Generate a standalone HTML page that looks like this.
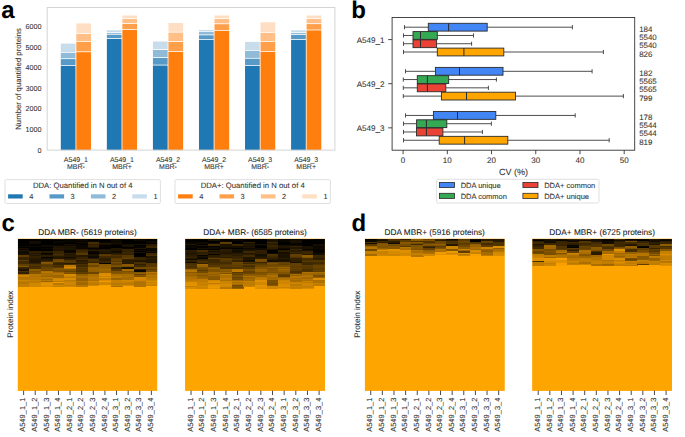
<!DOCTYPE html>
<html><head><meta charset="utf-8"><style>
html,body{margin:0;padding:0;background:#fff;width:685px;height:437px;overflow:hidden}
text{font-family:"Liberation Sans",sans-serif;text-rendering:geometricPrecision}
</style></head><body>
<svg width="685" height="437" viewBox="0 0 685 437" style="font-family:&apos;Liberation Sans&apos;,sans-serif;display:block"><text x="1.2" y="17.6" font-size="24" text-anchor="start" font-weight="bold" fill="#000" stroke="#000" stroke-width="0" >a</text>
<text x="351.2" y="18.0" font-size="24" text-anchor="start" font-weight="bold" fill="#000" stroke="#000" stroke-width="0" >b</text>
<text x="1.4" y="231.2" font-size="24" text-anchor="start" font-weight="bold" fill="#000" stroke="#000" stroke-width="0" >c</text>
<text x="351.6" y="231.3" font-size="24" text-anchor="start" font-weight="bold" fill="#000" stroke="#000" stroke-width="0" >d</text>
<rect x="60.80" y="65.80" width="14.70" height="84.30" fill="#1f77b4" />
<rect x="60.80" y="59.10" width="14.70" height="5.90" fill="#5799c7" />
<rect x="60.80" y="52.80" width="14.70" height="5.50" fill="#8fbbd9" />
<rect x="60.80" y="43.60" width="14.70" height="8.40" fill="#c7ddec" />
<rect x="76.30" y="52.20" width="14.70" height="97.90" fill="#ff7f0e" />
<rect x="76.30" y="41.80" width="14.70" height="9.60" fill="#ff9f4a" />
<rect x="76.30" y="33.90" width="14.70" height="7.10" fill="#ffbf86" />
<rect x="76.30" y="23.40" width="14.70" height="9.70" fill="#ffdfc3" />
<rect x="106.86" y="38.90" width="14.70" height="111.20" fill="#1f77b4" />
<rect x="106.86" y="34.70" width="14.70" height="3.40" fill="#5799c7" />
<rect x="106.86" y="32.90" width="14.70" height="1.00" fill="#8fbbd9" />
<rect x="106.86" y="30.30" width="14.70" height="1.80" fill="#c7ddec" />
<rect x="122.36" y="29.90" width="14.70" height="120.20" fill="#ff7f0e" />
<rect x="122.36" y="24.00" width="14.70" height="5.10" fill="#ff9f4a" />
<rect x="122.36" y="18.90" width="14.70" height="4.30" fill="#ffbf86" />
<rect x="122.36" y="15.50" width="14.70" height="2.60" fill="#ffdfc3" />
<rect x="152.92" y="65.50" width="14.70" height="84.60" fill="#1f77b4" />
<rect x="152.92" y="58.00" width="14.70" height="6.70" fill="#5799c7" />
<rect x="152.92" y="50.00" width="14.70" height="7.20" fill="#8fbbd9" />
<rect x="152.92" y="41.50" width="14.70" height="7.70" fill="#c7ddec" />
<rect x="168.42" y="51.80" width="14.70" height="98.30" fill="#ff7f0e" />
<rect x="168.42" y="41.90" width="14.70" height="9.10" fill="#ff9f4a" />
<rect x="168.42" y="32.60" width="14.70" height="8.50" fill="#ffbf86" />
<rect x="168.42" y="23.00" width="14.70" height="8.80" fill="#ffdfc3" />
<rect x="198.98" y="39.80" width="14.70" height="110.30" fill="#1f77b4" />
<rect x="198.98" y="35.30" width="14.70" height="3.70" fill="#5799c7" />
<rect x="198.98" y="31.80" width="14.70" height="2.70" fill="#8fbbd9" />
<rect x="198.98" y="29.90" width="14.70" height="1.10" fill="#c7ddec" />
<rect x="214.48" y="30.80" width="14.70" height="119.30" fill="#ff7f0e" />
<rect x="214.48" y="24.20" width="14.70" height="5.80" fill="#ff9f4a" />
<rect x="214.48" y="18.90" width="14.70" height="4.50" fill="#ffbf86" />
<rect x="214.48" y="15.50" width="14.70" height="2.60" fill="#ffdfc3" />
<rect x="245.04" y="65.80" width="14.70" height="84.30" fill="#1f77b4" />
<rect x="245.04" y="58.70" width="14.70" height="6.30" fill="#5799c7" />
<rect x="245.04" y="50.80" width="14.70" height="7.10" fill="#8fbbd9" />
<rect x="245.04" y="41.90" width="14.70" height="8.10" fill="#c7ddec" />
<rect x="260.54" y="51.80" width="14.70" height="98.30" fill="#ff7f0e" />
<rect x="260.54" y="41.80" width="14.70" height="9.20" fill="#ff9f4a" />
<rect x="260.54" y="32.80" width="14.70" height="8.20" fill="#ffbf86" />
<rect x="260.54" y="22.30" width="14.70" height="9.70" fill="#ffdfc3" />
<rect x="291.10" y="39.90" width="14.70" height="110.20" fill="#1f77b4" />
<rect x="291.10" y="34.90" width="14.70" height="4.20" fill="#5799c7" />
<rect x="291.10" y="32.90" width="14.70" height="1.20" fill="#8fbbd9" />
<rect x="291.10" y="30.30" width="14.70" height="1.80" fill="#c7ddec" />
<rect x="306.60" y="30.40" width="14.70" height="119.70" fill="#ff7f0e" />
<rect x="306.60" y="24.10" width="14.70" height="5.50" fill="#ff9f4a" />
<rect x="306.60" y="18.90" width="14.70" height="4.40" fill="#ffbf86" />
<rect x="306.60" y="15.50" width="14.70" height="2.60" fill="#ffdfc3" />
<rect x="47.2" y="7.5" width="287.7" height="142.6" fill="none" stroke="#d4d4d4" stroke-width="1"/>
<text x="41.4" y="152.65" font-size="7.2" text-anchor="end" font-weight="normal" fill="#333" stroke="#333" stroke-width="0.08" >0</text>
<text x="41.4" y="132.02" font-size="7.2" text-anchor="end" font-weight="normal" fill="#333" stroke="#333" stroke-width="0.08" >1000</text>
<text x="41.4" y="111.39" font-size="7.2" text-anchor="end" font-weight="normal" fill="#333" stroke="#333" stroke-width="0.08" >2000</text>
<text x="41.4" y="90.75999999999999" font-size="7.2" text-anchor="end" font-weight="normal" fill="#333" stroke="#333" stroke-width="0.08" >3000</text>
<text x="41.4" y="70.13" font-size="7.2" text-anchor="end" font-weight="normal" fill="#333" stroke="#333" stroke-width="0.08" >4000</text>
<text x="41.4" y="49.5" font-size="7.2" text-anchor="end" font-weight="normal" fill="#333" stroke="#333" stroke-width="0.08" >5000</text>
<text x="41.4" y="28.869999999999994" font-size="7.2" text-anchor="end" font-weight="normal" fill="#333" stroke="#333" stroke-width="0.08" >6000</text>
<text x="0" y="0" font-size="7.75" text-anchor="middle" font-weight="normal" fill="#333" stroke="#333" stroke-width="0.08" transform="translate(21.3,78.9) rotate(-90)">Number of quantified proteins</text>
<text x="75.9" y="161.6" font-size="7.0" text-anchor="middle" font-weight="normal" fill="#333" stroke="#333" stroke-width="0.08" >A549_1</text>
<text x="75.9" y="168.9" font-size="7.0" text-anchor="middle" font-weight="normal" fill="#333" stroke="#333" stroke-width="0.08" >MBR-</text>
<text x="121.96000000000001" y="161.6" font-size="7.0" text-anchor="middle" font-weight="normal" fill="#333" stroke="#333" stroke-width="0.08" >A549_1</text>
<text x="121.96000000000001" y="168.9" font-size="7.0" text-anchor="middle" font-weight="normal" fill="#333" stroke="#333" stroke-width="0.08" >MBR+</text>
<text x="168.02" y="161.6" font-size="7.0" text-anchor="middle" font-weight="normal" fill="#333" stroke="#333" stroke-width="0.08" >A549_2</text>
<text x="168.02" y="168.9" font-size="7.0" text-anchor="middle" font-weight="normal" fill="#333" stroke="#333" stroke-width="0.08" >MBR-</text>
<text x="214.08" y="161.6" font-size="7.0" text-anchor="middle" font-weight="normal" fill="#333" stroke="#333" stroke-width="0.08" >A549_2</text>
<text x="214.08" y="168.9" font-size="7.0" text-anchor="middle" font-weight="normal" fill="#333" stroke="#333" stroke-width="0.08" >MBR+</text>
<text x="260.14" y="161.6" font-size="7.0" text-anchor="middle" font-weight="normal" fill="#333" stroke="#333" stroke-width="0.08" >A549_3</text>
<text x="260.14" y="168.9" font-size="7.0" text-anchor="middle" font-weight="normal" fill="#333" stroke="#333" stroke-width="0.08" >MBR-</text>
<text x="306.20000000000005" y="161.6" font-size="7.0" text-anchor="middle" font-weight="normal" fill="#333" stroke="#333" stroke-width="0.08" >A549_3</text>
<text x="306.20000000000005" y="168.9" font-size="7.0" text-anchor="middle" font-weight="normal" fill="#333" stroke="#333" stroke-width="0.08" >MBR+</text>
<rect x="5.0" y="179.6" width="155.4" height="23.900000000000006" rx="1.5" fill="#fff" stroke="#d8d8d8" stroke-width="0.8"/>
<text x="82.7" y="187.9" font-size="7.72" text-anchor="middle" font-weight="normal" fill="#333" stroke="#333" stroke-width="0.08" >DDA: Quantified in N out of 4</text>
<rect x="8.10" y="194.30" width="14.60" height="4.20" fill="#1f77b4" />
<text x="29.200000000000003" y="199.3" font-size="7.4" text-anchor="start" font-weight="normal" fill="#333" stroke="#333" stroke-width="0.08" >4</text>
<rect x="49.50" y="194.30" width="14.60" height="4.20" fill="#5799c7" />
<text x="70.6" y="199.3" font-size="7.4" text-anchor="start" font-weight="normal" fill="#333" stroke="#333" stroke-width="0.08" >3</text>
<rect x="90.90" y="194.30" width="14.60" height="4.20" fill="#8fbbd9" />
<text x="112.0" y="199.3" font-size="7.4" text-anchor="start" font-weight="normal" fill="#333" stroke="#333" stroke-width="0.08" >2</text>
<rect x="132.30" y="194.30" width="14.60" height="4.20" fill="#c7ddec" />
<text x="153.39999999999998" y="199.3" font-size="7.4" text-anchor="start" font-weight="normal" fill="#333" stroke="#333" stroke-width="0.08" >1</text>
<rect x="175.0" y="179.6" width="155.39999999999998" height="23.900000000000006" rx="1.5" fill="#fff" stroke="#d8d8d8" stroke-width="0.8"/>
<text x="252.7" y="187.9" font-size="7.72" text-anchor="middle" font-weight="normal" fill="#333" stroke="#333" stroke-width="0.08" >DDA+: Quantified in N out of 4</text>
<rect x="178.10" y="194.30" width="14.60" height="4.20" fill="#ff7f0e" />
<text x="199.2" y="199.3" font-size="7.4" text-anchor="start" font-weight="normal" fill="#333" stroke="#333" stroke-width="0.08" >4</text>
<rect x="219.50" y="194.30" width="14.60" height="4.20" fill="#ff9f4a" />
<text x="240.6" y="199.3" font-size="7.4" text-anchor="start" font-weight="normal" fill="#333" stroke="#333" stroke-width="0.08" >3</text>
<rect x="260.90" y="194.30" width="14.60" height="4.20" fill="#ffbf86" />
<text x="282.0" y="199.3" font-size="7.4" text-anchor="start" font-weight="normal" fill="#333" stroke="#333" stroke-width="0.08" >2</text>
<rect x="302.30" y="194.30" width="14.60" height="4.20" fill="#ffdfc3" />
<text x="323.4" y="199.3" font-size="7.4" text-anchor="start" font-weight="normal" fill="#333" stroke="#333" stroke-width="0.08" >1</text>
<line x1="404.50" y1="27.20" x2="428.30" y2="27.20" stroke="#3a3a3a" stroke-width="0.9" />
<line x1="487.20" y1="27.20" x2="572.40" y2="27.20" stroke="#3a3a3a" stroke-width="0.9" />
<line x1="404.50" y1="25.09" x2="404.50" y2="29.30" stroke="#3a3a3a" stroke-width="0.9" />
<line x1="572.40" y1="25.09" x2="572.40" y2="29.30" stroke="#3a3a3a" stroke-width="0.9" />
<rect x="428.30" y="23.30" width="58.90" height="7.80" fill="#4285f4" stroke="#2b2b2b" stroke-width="0.9"/>
<line x1="448.60" y1="23.30" x2="448.60" y2="31.09" stroke="#2b2b2b" stroke-width="1.0" />
<line x1="403.50" y1="35.47" x2="413.00" y2="35.47" stroke="#3a3a3a" stroke-width="0.9" />
<line x1="437.30" y1="35.47" x2="473.50" y2="35.47" stroke="#3a3a3a" stroke-width="0.9" />
<line x1="403.50" y1="33.37" x2="403.50" y2="37.57" stroke="#3a3a3a" stroke-width="0.9" />
<line x1="473.50" y1="33.37" x2="473.50" y2="37.57" stroke="#3a3a3a" stroke-width="0.9" />
<rect x="413.00" y="31.57" width="24.30" height="7.80" fill="#34a853" stroke="#2b2b2b" stroke-width="0.9"/>
<line x1="420.50" y1="31.57" x2="420.50" y2="39.37" stroke="#2b2b2b" stroke-width="1.0" />
<line x1="403.50" y1="43.73" x2="413.00" y2="43.73" stroke="#3a3a3a" stroke-width="0.9" />
<line x1="436.60" y1="43.73" x2="471.60" y2="43.73" stroke="#3a3a3a" stroke-width="0.9" />
<line x1="403.50" y1="41.63" x2="403.50" y2="45.84" stroke="#3a3a3a" stroke-width="0.9" />
<line x1="471.60" y1="41.63" x2="471.60" y2="45.84" stroke="#3a3a3a" stroke-width="0.9" />
<rect x="413.00" y="39.84" width="23.60" height="7.80" fill="#ea4335" stroke="#2b2b2b" stroke-width="0.9"/>
<line x1="420.50" y1="39.84" x2="420.50" y2="47.63" stroke="#2b2b2b" stroke-width="1.0" />
<line x1="403.50" y1="52.01" x2="437.30" y2="52.01" stroke="#3a3a3a" stroke-width="0.9" />
<line x1="503.80" y1="52.01" x2="603.40" y2="52.01" stroke="#3a3a3a" stroke-width="0.9" />
<line x1="403.50" y1="49.91" x2="403.50" y2="54.11" stroke="#3a3a3a" stroke-width="0.9" />
<line x1="603.40" y1="49.91" x2="603.40" y2="54.11" stroke="#3a3a3a" stroke-width="0.9" />
<rect x="437.30" y="48.11" width="66.50" height="7.80" fill="#ffa500" stroke="#2b2b2b" stroke-width="0.9"/>
<line x1="463.90" y1="48.11" x2="463.90" y2="55.91" stroke="#2b2b2b" stroke-width="1.0" />
<line x1="405.50" y1="71.30" x2="435.40" y2="71.30" stroke="#3a3a3a" stroke-width="0.9" />
<line x1="503.00" y1="71.30" x2="592.10" y2="71.30" stroke="#3a3a3a" stroke-width="0.9" />
<line x1="405.50" y1="69.20" x2="405.50" y2="73.39" stroke="#3a3a3a" stroke-width="0.9" />
<line x1="592.10" y1="69.20" x2="592.10" y2="73.39" stroke="#3a3a3a" stroke-width="0.9" />
<rect x="435.40" y="67.39" width="67.60" height="7.80" fill="#4285f4" stroke="#2b2b2b" stroke-width="0.9"/>
<line x1="459.50" y1="67.39" x2="459.50" y2="75.20" stroke="#2b2b2b" stroke-width="1.0" />
<line x1="403.30" y1="79.56" x2="417.30" y2="79.56" stroke="#3a3a3a" stroke-width="0.9" />
<line x1="448.70" y1="79.56" x2="496.40" y2="79.56" stroke="#3a3a3a" stroke-width="0.9" />
<line x1="403.30" y1="77.47" x2="403.30" y2="81.66" stroke="#3a3a3a" stroke-width="0.9" />
<line x1="496.40" y1="77.47" x2="496.40" y2="81.66" stroke="#3a3a3a" stroke-width="0.9" />
<rect x="417.30" y="75.66" width="31.40" height="7.80" fill="#34a853" stroke="#2b2b2b" stroke-width="0.9"/>
<line x1="427.40" y1="75.66" x2="427.40" y2="83.47" stroke="#2b2b2b" stroke-width="1.0" />
<line x1="403.30" y1="87.84" x2="417.30" y2="87.84" stroke="#3a3a3a" stroke-width="0.9" />
<line x1="445.80" y1="87.84" x2="488.40" y2="87.84" stroke="#3a3a3a" stroke-width="0.9" />
<line x1="403.30" y1="85.74" x2="403.30" y2="89.94" stroke="#3a3a3a" stroke-width="0.9" />
<line x1="488.40" y1="85.74" x2="488.40" y2="89.94" stroke="#3a3a3a" stroke-width="0.9" />
<rect x="417.30" y="83.94" width="28.50" height="7.80" fill="#ea4335" stroke="#2b2b2b" stroke-width="0.9"/>
<line x1="427.40" y1="83.94" x2="427.40" y2="91.74" stroke="#2b2b2b" stroke-width="1.0" />
<line x1="403.30" y1="96.11" x2="441.40" y2="96.11" stroke="#3a3a3a" stroke-width="0.9" />
<line x1="515.50" y1="96.11" x2="623.40" y2="96.11" stroke="#3a3a3a" stroke-width="0.9" />
<line x1="403.30" y1="94.01" x2="403.30" y2="98.20" stroke="#3a3a3a" stroke-width="0.9" />
<line x1="623.40" y1="94.01" x2="623.40" y2="98.20" stroke="#3a3a3a" stroke-width="0.9" />
<rect x="441.40" y="92.20" width="74.10" height="7.80" fill="#ffa500" stroke="#2b2b2b" stroke-width="0.9"/>
<line x1="466.50" y1="92.20" x2="466.50" y2="100.01" stroke="#2b2b2b" stroke-width="1.0" />
<line x1="405.50" y1="115.44" x2="433.40" y2="115.44" stroke="#3a3a3a" stroke-width="0.9" />
<line x1="495.80" y1="115.44" x2="575.20" y2="115.44" stroke="#3a3a3a" stroke-width="0.9" />
<line x1="405.50" y1="113.34" x2="405.50" y2="117.54" stroke="#3a3a3a" stroke-width="0.9" />
<line x1="575.20" y1="113.34" x2="575.20" y2="117.54" stroke="#3a3a3a" stroke-width="0.9" />
<rect x="433.40" y="111.54" width="62.40" height="7.80" fill="#4285f4" stroke="#2b2b2b" stroke-width="0.9"/>
<line x1="457.50" y1="111.54" x2="457.50" y2="119.34" stroke="#2b2b2b" stroke-width="1.0" />
<line x1="403.50" y1="123.71" x2="416.60" y2="123.71" stroke="#3a3a3a" stroke-width="0.9" />
<line x1="446.80" y1="123.71" x2="491.40" y2="123.71" stroke="#3a3a3a" stroke-width="0.9" />
<line x1="403.50" y1="121.61" x2="403.50" y2="125.81" stroke="#3a3a3a" stroke-width="0.9" />
<line x1="491.40" y1="121.61" x2="491.40" y2="125.81" stroke="#3a3a3a" stroke-width="0.9" />
<rect x="416.60" y="119.81" width="30.20" height="7.80" fill="#34a853" stroke="#2b2b2b" stroke-width="0.9"/>
<line x1="426.40" y1="119.81" x2="426.40" y2="127.61" stroke="#2b2b2b" stroke-width="1.0" />
<line x1="403.50" y1="131.98" x2="416.50" y2="131.98" stroke="#3a3a3a" stroke-width="0.9" />
<line x1="442.90" y1="131.98" x2="482.40" y2="131.98" stroke="#3a3a3a" stroke-width="0.9" />
<line x1="403.50" y1="129.88" x2="403.50" y2="134.08" stroke="#3a3a3a" stroke-width="0.9" />
<line x1="482.40" y1="129.88" x2="482.40" y2="134.08" stroke="#3a3a3a" stroke-width="0.9" />
<rect x="416.50" y="128.08" width="26.40" height="7.80" fill="#ea4335" stroke="#2b2b2b" stroke-width="0.9"/>
<line x1="426.40" y1="128.08" x2="426.40" y2="135.88" stroke="#2b2b2b" stroke-width="1.0" />
<line x1="403.50" y1="140.25" x2="439.20" y2="140.25" stroke="#3a3a3a" stroke-width="0.9" />
<line x1="507.80" y1="140.25" x2="609.20" y2="140.25" stroke="#3a3a3a" stroke-width="0.9" />
<line x1="403.50" y1="138.16" x2="403.50" y2="142.35" stroke="#3a3a3a" stroke-width="0.9" />
<line x1="609.20" y1="138.16" x2="609.20" y2="142.35" stroke="#3a3a3a" stroke-width="0.9" />
<rect x="439.20" y="136.35" width="68.60" height="7.80" fill="#ffa500" stroke="#2b2b2b" stroke-width="0.9"/>
<line x1="464.60" y1="136.35" x2="464.60" y2="144.16" stroke="#2b2b2b" stroke-width="1.0" />
<rect x="392.1" y="17.5" width="242.60000000000002" height="132.7" fill="none" stroke="#333" stroke-width="0.9"/>
<line x1="388.20" y1="39.60" x2="392.10" y2="39.60" stroke="#333" stroke-width="0.9" />
<text x="384.6" y="42.5" font-size="8.1" text-anchor="end" font-weight="normal" fill="#333" stroke="#333" stroke-width="0.08" >A549_1</text>
<line x1="388.20" y1="83.70" x2="392.10" y2="83.70" stroke="#333" stroke-width="0.9" />
<text x="384.6" y="86.60000000000001" font-size="8.1" text-anchor="end" font-weight="normal" fill="#333" stroke="#333" stroke-width="0.08" >A549_2</text>
<line x1="388.20" y1="127.85" x2="392.10" y2="127.85" stroke="#333" stroke-width="0.9" />
<text x="384.6" y="130.75" font-size="8.1" text-anchor="end" font-weight="normal" fill="#333" stroke="#333" stroke-width="0.08" >A549_3</text>
<text x="639.2" y="31.6" font-size="7.9" text-anchor="start" font-weight="normal" fill="#333" stroke="#333" stroke-width="0.08" >184</text>
<text x="639.2" y="39.900000000000006" font-size="7.9" text-anchor="start" font-weight="normal" fill="#333" stroke="#333" stroke-width="0.08" >5540</text>
<text x="639.2" y="48.2" font-size="7.9" text-anchor="start" font-weight="normal" fill="#333" stroke="#333" stroke-width="0.08" >5540</text>
<text x="639.2" y="56.50000000000001" font-size="7.9" text-anchor="start" font-weight="normal" fill="#333" stroke="#333" stroke-width="0.08" >826</text>
<text x="639.2" y="75.69999999999999" font-size="7.9" text-anchor="start" font-weight="normal" fill="#333" stroke="#333" stroke-width="0.08" >182</text>
<text x="639.2" y="83.99999999999999" font-size="7.9" text-anchor="start" font-weight="normal" fill="#333" stroke="#333" stroke-width="0.08" >5565</text>
<text x="639.2" y="92.3" font-size="7.9" text-anchor="start" font-weight="normal" fill="#333" stroke="#333" stroke-width="0.08" >5565</text>
<text x="639.2" y="100.6" font-size="7.9" text-anchor="start" font-weight="normal" fill="#333" stroke="#333" stroke-width="0.08" >799</text>
<text x="639.2" y="119.84999999999998" font-size="7.9" text-anchor="start" font-weight="normal" fill="#333" stroke="#333" stroke-width="0.08" >178</text>
<text x="639.2" y="128.14999999999998" font-size="7.9" text-anchor="start" font-weight="normal" fill="#333" stroke="#333" stroke-width="0.08" >5544</text>
<text x="639.2" y="136.45" font-size="7.9" text-anchor="start" font-weight="normal" fill="#333" stroke="#333" stroke-width="0.08" >5544</text>
<text x="639.2" y="144.74999999999997" font-size="7.9" text-anchor="start" font-weight="normal" fill="#333" stroke="#333" stroke-width="0.08" >819</text>
<line x1="403.10" y1="150.20" x2="403.10" y2="154.20" stroke="#333" stroke-width="0.9" />
<text x="403.1" y="163.3" font-size="8.0" text-anchor="middle" font-weight="normal" fill="#333" stroke="#333" stroke-width="0.08" >0</text>
<line x1="447.32" y1="150.20" x2="447.32" y2="154.20" stroke="#333" stroke-width="0.9" />
<text x="447.32000000000005" y="163.3" font-size="8.0" text-anchor="middle" font-weight="normal" fill="#333" stroke="#333" stroke-width="0.08" >10</text>
<line x1="491.54" y1="150.20" x2="491.54" y2="154.20" stroke="#333" stroke-width="0.9" />
<text x="491.54" y="163.3" font-size="8.0" text-anchor="middle" font-weight="normal" fill="#333" stroke="#333" stroke-width="0.08" >20</text>
<line x1="535.76" y1="150.20" x2="535.76" y2="154.20" stroke="#333" stroke-width="0.9" />
<text x="535.76" y="163.3" font-size="8.0" text-anchor="middle" font-weight="normal" fill="#333" stroke="#333" stroke-width="0.08" >30</text>
<line x1="579.98" y1="150.20" x2="579.98" y2="154.20" stroke="#333" stroke-width="0.9" />
<text x="579.98" y="163.3" font-size="8.0" text-anchor="middle" font-weight="normal" fill="#333" stroke="#333" stroke-width="0.08" >40</text>
<line x1="624.20" y1="150.20" x2="624.20" y2="154.20" stroke="#333" stroke-width="0.9" />
<text x="624.2" y="163.3" font-size="8.0" text-anchor="middle" font-weight="normal" fill="#333" stroke="#333" stroke-width="0.08" >50</text>
<text x="513.5" y="174.6" font-size="9.0" text-anchor="middle" font-weight="normal" fill="#333" stroke="#333" stroke-width="0.08" >CV (%)</text>
<rect x="436.6" y="179.3" width="162.39999999999998" height="23.69999999999999" rx="1.5" fill="#fff" stroke="#d8d8d8" stroke-width="0.8"/>
<rect x="439.4" y="182.4" width="15.1" height="5.2" fill="#4285f4" stroke="#2b2b2b" stroke-width="0.8"/>
<text x="460.7" y="187.9" font-size="7.5" text-anchor="start" font-weight="normal" fill="#333" stroke="#333" stroke-width="0.08" >DDA unique</text>
<rect x="439.4" y="193.3" width="15.1" height="5.2" fill="#34a853" stroke="#2b2b2b" stroke-width="0.8"/>
<text x="460.7" y="198.8" font-size="7.5" text-anchor="start" font-weight="normal" fill="#333" stroke="#333" stroke-width="0.08" >DDA common</text>
<rect x="522.9" y="182.4" width="15.1" height="5.2" fill="#ea4335" stroke="#2b2b2b" stroke-width="0.8"/>
<text x="544.1999999999999" y="187.9" font-size="7.5" text-anchor="start" font-weight="normal" fill="#333" stroke="#333" stroke-width="0.08" >DDA+ common</text>
<rect x="522.9" y="193.3" width="15.1" height="5.2" fill="#ffa500" stroke="#2b2b2b" stroke-width="0.8"/>
<text x="544.1999999999999" y="198.8" font-size="7.5" text-anchor="start" font-weight="normal" fill="#333" stroke="#333" stroke-width="0.08" >DDA+ unique</text>
<defs><filter id="vb" x="0" y="0" width="1" height="1" color-interpolation-filters="sRGB"><feGaussianBlur stdDeviation="0.3 0.45"/></filter></defs>
<rect x="17.80" y="238.70" width="139.40" height="152.00" fill="#ffa500" />
<clipPath id="hc0"><rect x="17.8" y="238.7" width="139.40" height="152.00"/></clipPath>
<g clip-path="url(#hc0)"><g filter="url(#vb)" shape-rendering="crispEdges">
<rect x="17.80" y="238.70" width="139.40" height="152.00" fill="#ffa500" />
<rect x="17.80" y="238.70" width="12.12" height="1.85" fill="#000000" />
<rect x="17.80" y="239.95" width="12.12" height="1.87" fill="#000000" />
<rect x="17.80" y="241.22" width="12.12" height="1.91" fill="#000000" />
<rect x="17.80" y="242.53" width="12.12" height="1.91" fill="#010100" />
<rect x="17.80" y="243.84" width="12.12" height="2.03" fill="#070400" />
<rect x="17.80" y="245.27" width="12.12" height="1.70" fill="#000000" />
<rect x="17.80" y="246.37" width="12.12" height="1.49" fill="#0c0800" />
<rect x="17.80" y="247.26" width="12.12" height="1.44" fill="#000000" />
<rect x="17.80" y="248.10" width="12.12" height="1.32" fill="#170f00" />
<rect x="17.80" y="248.82" width="12.12" height="2.02" fill="#0c0800" />
<rect x="17.80" y="250.24" width="12.12" height="1.56" fill="#201500" />
<rect x="17.80" y="251.19" width="12.12" height="1.46" fill="#120b00" />
<rect x="17.80" y="252.05" width="12.12" height="1.59" fill="#100b00" />
<rect x="17.80" y="253.04" width="12.12" height="1.86" fill="#130d00" />
<rect x="17.80" y="254.31" width="12.12" height="1.52" fill="#191000" />
<rect x="17.80" y="255.23" width="12.12" height="2.52" fill="#5b3b00" />
<rect x="17.80" y="257.15" width="12.12" height="1.90" fill="#3a2500" />
<rect x="17.80" y="258.45" width="12.12" height="1.68" fill="#352200" />
<rect x="17.80" y="259.53" width="12.12" height="2.40" fill="#5a3a00" />
<rect x="17.80" y="261.33" width="12.12" height="2.11" fill="#402a00" />
<rect x="17.80" y="262.84" width="12.12" height="1.33" fill="#422b00" />
<rect x="17.80" y="263.56" width="12.12" height="1.47" fill="#805300" />
<rect x="17.80" y="264.43" width="12.12" height="2.17" fill="#613f00" />
<rect x="17.80" y="266.00" width="12.12" height="1.37" fill="#845500" />
<rect x="17.80" y="266.77" width="12.12" height="2.36" fill="#362300" />
<rect x="17.80" y="268.53" width="12.12" height="1.41" fill="#352200" />
<rect x="17.80" y="269.33" width="12.12" height="2.31" fill="#1e1300" />
<rect x="17.80" y="271.04" width="12.12" height="1.80" fill="#482e00" />
<rect x="17.80" y="272.24" width="12.12" height="1.47" fill="#322000" />
<rect x="17.80" y="273.11" width="12.12" height="1.95" fill="#312000" />
<rect x="17.80" y="274.46" width="12.12" height="1.49" fill="#9f6700" />
<rect x="17.80" y="275.35" width="12.12" height="2.16" fill="#cc8400" />
<rect x="17.80" y="276.91" width="12.12" height="1.52" fill="#b07200" />
<rect x="17.80" y="277.82" width="12.12" height="1.46" fill="#b57500" />
<rect x="17.80" y="278.68" width="12.12" height="1.51" fill="#b77600" />
<rect x="17.80" y="279.59" width="12.12" height="1.85" fill="#cd8500" />
<rect x="17.80" y="280.84" width="12.12" height="1.59" fill="#be7b00" />
<rect x="17.80" y="281.83" width="12.12" height="2.04" fill="#b87700" />
<rect x="17.80" y="283.27" width="12.12" height="1.52" fill="#b77600" />
<rect x="17.80" y="284.19" width="12.12" height="1.67" fill="#c37e00" />
<rect x="17.80" y="285.26" width="12.12" height="2.02" fill="#c27e00" />
<rect x="29.42" y="238.70" width="12.12" height="2.28" fill="#000000" />
<rect x="29.42" y="240.38" width="12.12" height="1.61" fill="#000000" />
<rect x="29.42" y="241.40" width="12.12" height="2.04" fill="#150d00" />
<rect x="29.42" y="242.84" width="12.12" height="1.50" fill="#0e0900" />
<rect x="29.42" y="243.74" width="12.12" height="1.66" fill="#050300" />
<rect x="29.42" y="244.80" width="12.12" height="2.17" fill="#000000" />
<rect x="29.42" y="246.37" width="12.12" height="1.47" fill="#0f0900" />
<rect x="29.42" y="247.24" width="12.12" height="1.49" fill="#000000" />
<rect x="29.42" y="248.13" width="12.12" height="2.00" fill="#000000" />
<rect x="29.42" y="249.53" width="12.12" height="1.77" fill="#000000" />
<rect x="29.42" y="250.71" width="12.12" height="1.28" fill="#0f0900" />
<rect x="29.42" y="251.38" width="12.12" height="1.97" fill="#2f1f00" />
<rect x="29.42" y="252.76" width="12.12" height="1.55" fill="#241700" />
<rect x="29.42" y="253.71" width="12.12" height="2.31" fill="#2e1e00" />
<rect x="29.42" y="255.42" width="12.12" height="1.59" fill="#211600" />
<rect x="29.42" y="256.41" width="12.12" height="2.62" fill="#322000" />
<rect x="29.42" y="258.44" width="12.12" height="2.35" fill="#271900" />
<rect x="29.42" y="260.19" width="12.12" height="2.28" fill="#1f1400" />
<rect x="29.42" y="261.87" width="12.12" height="1.50" fill="#221600" />
<rect x="29.42" y="262.77" width="12.12" height="1.39" fill="#332100" />
<rect x="29.42" y="263.56" width="12.12" height="2.10" fill="#4b3100" />
<rect x="29.42" y="265.07" width="12.12" height="1.66" fill="#553700" />
<rect x="29.42" y="266.13" width="12.12" height="1.69" fill="#3e2800" />
<rect x="29.42" y="267.22" width="12.12" height="1.58" fill="#4d3200" />
<rect x="29.42" y="268.19" width="12.12" height="1.74" fill="#492f00" />
<rect x="29.42" y="269.33" width="12.12" height="1.96" fill="#8e5c00" />
<rect x="29.42" y="270.69" width="12.12" height="1.68" fill="#754c00" />
<rect x="29.42" y="271.77" width="12.12" height="2.32" fill="#845500" />
<rect x="29.42" y="273.49" width="12.12" height="1.57" fill="#855600" />
<rect x="29.42" y="274.46" width="12.12" height="1.85" fill="#b77600" />
<rect x="29.42" y="275.71" width="12.12" height="1.77" fill="#b27300" />
<rect x="29.42" y="276.88" width="12.12" height="1.97" fill="#b87700" />
<rect x="29.42" y="278.25" width="12.12" height="1.94" fill="#b87700" />
<rect x="29.42" y="279.59" width="12.12" height="2.38" fill="#c47f00" />
<rect x="29.42" y="281.37" width="12.12" height="1.98" fill="#be7b00" />
<rect x="29.42" y="282.75" width="12.12" height="1.54" fill="#d18700" />
<rect x="29.42" y="283.70" width="12.12" height="2.31" fill="#cf8600" />
<rect x="29.42" y="285.41" width="12.12" height="1.88" fill="#d18700" />
<rect x="41.03" y="238.70" width="12.12" height="2.04" fill="#050300" />
<rect x="41.03" y="240.14" width="12.12" height="1.88" fill="#040200" />
<rect x="41.03" y="241.42" width="12.12" height="2.40" fill="#000000" />
<rect x="41.03" y="243.22" width="12.12" height="1.48" fill="#000000" />
<rect x="41.03" y="244.09" width="12.12" height="1.48" fill="#000000" />
<rect x="41.03" y="244.97" width="12.12" height="2.14" fill="#0f0a00" />
<rect x="41.03" y="246.51" width="12.12" height="2.32" fill="#000000" />
<rect x="41.03" y="248.23" width="12.12" height="1.75" fill="#0b0700" />
<rect x="41.03" y="249.38" width="12.12" height="2.61" fill="#000000" />
<rect x="41.03" y="251.38" width="12.12" height="1.82" fill="#261900" />
<rect x="41.03" y="252.60" width="12.12" height="1.97" fill="#070400" />
<rect x="41.03" y="253.97" width="12.12" height="2.02" fill="#130c00" />
<rect x="41.03" y="255.40" width="12.12" height="2.01" fill="#2b1c00" />
<rect x="41.03" y="256.81" width="12.12" height="1.59" fill="#060400" />
<rect x="41.03" y="257.79" width="12.12" height="2.28" fill="#160e00" />
<rect x="41.03" y="259.47" width="12.12" height="2.13" fill="#251800" />
<rect x="41.03" y="261.00" width="12.12" height="1.24" fill="#432b00" />
<rect x="41.03" y="261.64" width="12.12" height="1.84" fill="#865700" />
<rect x="41.03" y="262.88" width="12.12" height="1.28" fill="#7f5200" />
<rect x="41.03" y="263.56" width="12.12" height="1.43" fill="#5c3b00" />
<rect x="41.03" y="264.39" width="12.12" height="1.63" fill="#5f3d00" />
<rect x="41.03" y="265.42" width="12.12" height="2.10" fill="#563800" />
<rect x="41.03" y="266.92" width="12.12" height="2.32" fill="#684300" />
<rect x="41.03" y="268.64" width="12.12" height="1.66" fill="#724a00" />
<rect x="41.03" y="269.70" width="12.12" height="1.52" fill="#684400" />
<rect x="41.03" y="270.62" width="12.12" height="1.60" fill="#ae7000" />
<rect x="41.03" y="271.62" width="12.12" height="2.06" fill="#b97700" />
<rect x="41.03" y="273.08" width="12.12" height="1.98" fill="#a96d00" />
<rect x="41.03" y="274.46" width="12.12" height="2.07" fill="#a86d00" />
<rect x="41.03" y="275.93" width="12.12" height="1.60" fill="#9a6400" />
<rect x="41.03" y="276.93" width="12.12" height="2.31" fill="#b97800" />
<rect x="41.03" y="278.64" width="12.12" height="2.28" fill="#a36900" />
<rect x="41.03" y="280.32" width="12.12" height="1.72" fill="#bb7900" />
<rect x="41.03" y="281.44" width="12.12" height="1.32" fill="#976200" />
<rect x="41.03" y="282.15" width="12.12" height="2.25" fill="#df9000" />
<rect x="41.03" y="283.80" width="12.12" height="2.11" fill="#e89600" />
<rect x="41.03" y="285.31" width="12.12" height="1.57" fill="#db8e00" />
<rect x="41.03" y="286.28" width="12.12" height="1.00" fill="#dd8f00" />
<rect x="52.65" y="238.70" width="12.12" height="1.81" fill="#120c00" />
<rect x="52.65" y="239.91" width="12.12" height="2.03" fill="#000000" />
<rect x="52.65" y="241.34" width="12.12" height="2.24" fill="#0a0600" />
<rect x="52.65" y="242.98" width="12.12" height="2.38" fill="#050300" />
<rect x="52.65" y="244.76" width="12.12" height="1.43" fill="#0b0700" />
<rect x="52.65" y="245.59" width="12.12" height="2.55" fill="#1d1300" />
<rect x="52.65" y="247.54" width="12.12" height="1.97" fill="#251800" />
<rect x="52.65" y="248.91" width="12.12" height="1.71" fill="#201500" />
<rect x="52.65" y="250.02" width="12.12" height="1.54" fill="#1d1300" />
<rect x="52.65" y="250.95" width="12.12" height="2.31" fill="#372400" />
<rect x="52.65" y="252.67" width="12.12" height="1.64" fill="#392500" />
<rect x="52.65" y="253.70" width="12.12" height="1.54" fill="#462e00" />
<rect x="52.65" y="254.64" width="12.12" height="1.85" fill="#3b2600" />
<rect x="52.65" y="255.89" width="12.12" height="2.03" fill="#281a00" />
<rect x="52.65" y="257.32" width="12.12" height="2.36" fill="#221600" />
<rect x="52.65" y="259.08" width="12.12" height="2.08" fill="#6c4600" />
<rect x="52.65" y="260.56" width="12.12" height="1.68" fill="#754c00" />
<rect x="52.65" y="261.64" width="12.12" height="1.41" fill="#2d1d00" />
<rect x="52.65" y="262.45" width="12.12" height="1.58" fill="#452c00" />
<rect x="52.65" y="263.43" width="12.12" height="1.67" fill="#362300" />
<rect x="52.65" y="264.50" width="12.12" height="1.92" fill="#513500" />
<rect x="52.65" y="265.82" width="12.12" height="1.55" fill="#422a00" />
<rect x="52.65" y="266.77" width="12.12" height="2.19" fill="#5b3b00" />
<rect x="52.65" y="268.36" width="12.12" height="2.31" fill="#815300" />
<rect x="52.65" y="270.07" width="12.12" height="2.43" fill="#774d00" />
<rect x="52.65" y="271.90" width="12.12" height="1.53" fill="#9e6600" />
<rect x="52.65" y="272.83" width="12.12" height="2.31" fill="#b57500" />
<rect x="52.65" y="274.54" width="12.12" height="1.78" fill="#986200" />
<rect x="52.65" y="275.71" width="12.12" height="2.20" fill="#a46a00" />
<rect x="52.65" y="277.31" width="12.12" height="1.60" fill="#9d6600" />
<rect x="52.65" y="278.31" width="12.12" height="1.60" fill="#d38800" />
<rect x="52.65" y="279.31" width="12.12" height="2.12" fill="#d68a00" />
<rect x="52.65" y="280.83" width="12.12" height="2.12" fill="#be7b00" />
<rect x="52.65" y="282.35" width="12.12" height="1.61" fill="#eb9800" />
<rect x="52.65" y="283.37" width="12.12" height="2.38" fill="#b97800" />
<rect x="52.65" y="285.14" width="12.12" height="1.94" fill="#d18700" />
<rect x="52.65" y="286.48" width="12.12" height="0.80" fill="#c47f00" />
<rect x="64.27" y="238.70" width="12.12" height="2.26" fill="#000000" />
<rect x="64.27" y="240.36" width="12.12" height="1.84" fill="#070500" />
<rect x="64.27" y="241.60" width="12.12" height="1.95" fill="#040300" />
<rect x="64.27" y="242.95" width="12.12" height="1.43" fill="#000000" />
<rect x="64.27" y="243.78" width="12.12" height="2.21" fill="#180f00" />
<rect x="64.27" y="245.38" width="12.12" height="1.47" fill="#0c0800" />
<rect x="64.27" y="246.26" width="12.12" height="1.74" fill="#211500" />
<rect x="64.27" y="247.39" width="12.12" height="1.55" fill="#191000" />
<rect x="64.27" y="248.34" width="12.12" height="1.92" fill="#1b1200" />
<rect x="64.27" y="249.66" width="12.12" height="2.33" fill="#070500" />
<rect x="64.27" y="251.38" width="12.12" height="2.35" fill="#0b0700" />
<rect x="64.27" y="253.13" width="12.12" height="1.49" fill="#2c1c00" />
<rect x="64.27" y="254.02" width="12.12" height="1.62" fill="#201400" />
<rect x="64.27" y="255.04" width="12.12" height="2.13" fill="#281a00" />
<rect x="64.27" y="256.57" width="12.12" height="2.04" fill="#120b00" />
<rect x="64.27" y="258.01" width="12.12" height="1.67" fill="#271900" />
<rect x="64.27" y="259.08" width="12.12" height="1.71" fill="#2f1e00" />
<rect x="64.27" y="260.19" width="12.12" height="2.30" fill="#523500" />
<rect x="64.27" y="261.89" width="12.12" height="1.61" fill="#553700" />
<rect x="64.27" y="262.90" width="12.12" height="1.92" fill="#261900" />
<rect x="64.27" y="264.22" width="12.12" height="1.87" fill="#462d00" />
<rect x="64.27" y="265.49" width="12.12" height="1.90" fill="#be7b00" />
<rect x="64.27" y="266.79" width="12.12" height="2.01" fill="#d18700" />
<rect x="64.27" y="268.20" width="12.12" height="1.74" fill="#b57500" />
<rect x="64.27" y="269.33" width="12.12" height="1.80" fill="#7a4f00" />
<rect x="64.27" y="270.53" width="12.12" height="1.89" fill="#664200" />
<rect x="64.27" y="271.82" width="12.12" height="2.09" fill="#845500" />
<rect x="64.27" y="273.32" width="12.12" height="1.75" fill="#7c5000" />
<rect x="64.27" y="274.46" width="12.12" height="2.36" fill="#d78b00" />
<rect x="64.27" y="276.22" width="12.12" height="1.87" fill="#ca8300" />
<rect x="64.27" y="277.49" width="12.12" height="1.53" fill="#b97800" />
<rect x="64.27" y="278.42" width="12.12" height="1.77" fill="#d88c00" />
<rect x="64.27" y="279.59" width="12.12" height="1.88" fill="#bb7900" />
<rect x="64.27" y="280.87" width="12.12" height="2.02" fill="#c68000" />
<rect x="64.27" y="282.28" width="12.12" height="2.33" fill="#ce8500" />
<rect x="64.27" y="284.01" width="12.12" height="1.42" fill="#cf8600" />
<rect x="64.27" y="284.83" width="12.12" height="1.59" fill="#c27d00" />
<rect x="64.27" y="285.83" width="12.12" height="1.46" fill="#d28800" />
<rect x="75.88" y="238.70" width="12.12" height="1.76" fill="#0c0800" />
<rect x="75.88" y="239.86" width="12.12" height="2.13" fill="#0c0800" />
<rect x="75.88" y="241.39" width="12.12" height="1.52" fill="#070400" />
<rect x="75.88" y="242.31" width="12.12" height="1.60" fill="#100a00" />
<rect x="75.88" y="243.31" width="12.12" height="2.27" fill="#050300" />
<rect x="75.88" y="244.97" width="12.12" height="1.81" fill="#0a0600" />
<rect x="75.88" y="246.19" width="12.12" height="1.93" fill="#0a0600" />
<rect x="75.88" y="247.52" width="12.12" height="1.90" fill="#0c0800" />
<rect x="75.88" y="248.82" width="12.12" height="2.04" fill="#291a00" />
<rect x="75.88" y="250.26" width="12.12" height="2.01" fill="#3d2700" />
<rect x="75.88" y="251.67" width="12.12" height="2.26" fill="#432c00" />
<rect x="75.88" y="253.33" width="12.12" height="2.50" fill="#563800" />
<rect x="75.88" y="255.23" width="12.12" height="2.30" fill="#261800" />
<rect x="75.88" y="256.93" width="12.12" height="2.32" fill="#342200" />
<rect x="75.88" y="258.66" width="12.12" height="1.62" fill="#452c00" />
<rect x="75.88" y="259.67" width="12.12" height="1.53" fill="#2a1b00" />
<rect x="75.88" y="260.61" width="12.12" height="1.63" fill="#291a00" />
<rect x="75.88" y="261.64" width="12.12" height="1.50" fill="#372400" />
<rect x="75.88" y="262.54" width="12.12" height="2.23" fill="#2d1d00" />
<rect x="75.88" y="264.17" width="12.12" height="1.53" fill="#4c3100" />
<rect x="75.88" y="265.10" width="12.12" height="1.80" fill="#402a00" />
<rect x="75.88" y="266.30" width="12.12" height="1.60" fill="#3f2900" />
<rect x="75.88" y="267.30" width="12.12" height="1.35" fill="#5e3d00" />
<rect x="75.88" y="268.05" width="12.12" height="1.52" fill="#492f00" />
<rect x="75.88" y="268.97" width="12.12" height="1.91" fill="#5b3b00" />
<rect x="75.88" y="270.27" width="12.12" height="2.09" fill="#4b3100" />
<rect x="75.88" y="271.76" width="12.12" height="1.59" fill="#603e00" />
<rect x="75.88" y="272.75" width="12.12" height="1.44" fill="#5d3c00" />
<rect x="75.88" y="273.58" width="12.12" height="1.48" fill="#4a3000" />
<rect x="75.88" y="274.46" width="12.12" height="1.55" fill="#905d00" />
<rect x="75.88" y="275.41" width="12.12" height="1.58" fill="#996300" />
<rect x="75.88" y="276.39" width="12.12" height="2.39" fill="#a96d00" />
<rect x="75.88" y="278.18" width="12.12" height="2.33" fill="#956100" />
<rect x="75.88" y="279.91" width="12.12" height="1.56" fill="#946000" />
<rect x="75.88" y="280.87" width="12.12" height="1.86" fill="#b07200" />
<rect x="75.88" y="282.13" width="12.12" height="1.87" fill="#a46a00" />
<rect x="75.88" y="283.40" width="12.12" height="1.92" fill="#a06700" />
<rect x="75.88" y="284.72" width="12.12" height="1.41" fill="#b77600" />
<rect x="75.88" y="285.53" width="12.12" height="1.75" fill="#b47400" />
<rect x="87.50" y="238.70" width="12.12" height="1.85" fill="#000000" />
<rect x="87.50" y="239.95" width="12.12" height="2.14" fill="#000000" />
<rect x="87.50" y="241.49" width="12.12" height="1.52" fill="#0a0600" />
<rect x="87.50" y="242.41" width="12.12" height="1.91" fill="#452d00" />
<rect x="87.50" y="243.72" width="12.12" height="2.20" fill="#2d1d00" />
<rect x="87.50" y="245.32" width="12.12" height="2.10" fill="#362300" />
<rect x="87.50" y="246.83" width="12.12" height="1.80" fill="#1c1200" />
<rect x="87.50" y="248.03" width="12.12" height="1.39" fill="#060400" />
<rect x="87.50" y="248.82" width="12.12" height="2.20" fill="#150d00" />
<rect x="87.50" y="250.43" width="12.12" height="1.66" fill="#281a00" />
<rect x="87.50" y="251.48" width="12.12" height="1.78" fill="#0b0700" />
<rect x="87.50" y="252.67" width="12.12" height="2.21" fill="#000000" />
<rect x="87.50" y="254.28" width="12.12" height="2.28" fill="#1c1200" />
<rect x="87.50" y="255.96" width="12.12" height="2.43" fill="#0f0a00" />
<rect x="87.50" y="257.79" width="12.12" height="1.81" fill="#2c1c00" />
<rect x="87.50" y="259.00" width="12.12" height="2.12" fill="#4c3100" />
<rect x="87.50" y="260.52" width="12.12" height="1.87" fill="#462d00" />
<rect x="87.50" y="261.79" width="12.12" height="1.73" fill="#362300" />
<rect x="87.50" y="262.92" width="12.12" height="2.02" fill="#845500" />
<rect x="87.50" y="264.35" width="12.12" height="1.63" fill="#875700" />
<rect x="87.50" y="265.38" width="12.12" height="1.99" fill="#6f4800" />
<rect x="87.50" y="266.77" width="12.12" height="2.06" fill="#925f00" />
<rect x="87.50" y="268.23" width="12.12" height="1.79" fill="#9a6300" />
<rect x="87.50" y="269.42" width="12.12" height="2.40" fill="#946000" />
<rect x="87.50" y="271.22" width="12.12" height="1.28" fill="#915e00" />
<rect x="87.50" y="271.90" width="12.12" height="2.38" fill="#6c4600" />
<rect x="87.50" y="273.68" width="12.12" height="1.38" fill="#5d3c00" />
<rect x="87.50" y="274.46" width="12.12" height="1.66" fill="#ac6f00" />
<rect x="87.50" y="275.52" width="12.12" height="1.60" fill="#b27300" />
<rect x="87.50" y="276.51" width="12.12" height="1.78" fill="#b77700" />
<rect x="87.50" y="277.69" width="12.12" height="2.50" fill="#b57500" />
<rect x="87.50" y="279.59" width="12.12" height="1.95" fill="#ad7000" />
<rect x="87.50" y="280.94" width="12.12" height="1.97" fill="#cd8500" />
<rect x="87.50" y="282.31" width="12.12" height="2.40" fill="#bf7c00" />
<rect x="87.50" y="284.10" width="12.12" height="1.48" fill="#bd7a00" />
<rect x="87.50" y="284.98" width="12.12" height="1.02" fill="#cf8600" />
<rect x="99.12" y="238.70" width="12.12" height="2.33" fill="#010100" />
<rect x="99.12" y="240.43" width="12.12" height="1.56" fill="#000000" />
<rect x="99.12" y="241.39" width="12.12" height="1.90" fill="#070400" />
<rect x="99.12" y="242.69" width="12.12" height="1.61" fill="#221600" />
<rect x="99.12" y="243.69" width="12.12" height="1.82" fill="#180f00" />
<rect x="99.12" y="244.91" width="12.12" height="1.93" fill="#030200" />
<rect x="99.12" y="246.24" width="12.12" height="1.69" fill="#060400" />
<rect x="99.12" y="247.33" width="12.12" height="2.09" fill="#030200" />
<rect x="99.12" y="248.82" width="12.12" height="2.12" fill="#1c1200" />
<rect x="99.12" y="250.34" width="12.12" height="1.70" fill="#291b00" />
<rect x="99.12" y="251.43" width="12.12" height="1.44" fill="#201500" />
<rect x="99.12" y="252.28" width="12.12" height="1.56" fill="#201500" />
<rect x="99.12" y="253.23" width="12.12" height="1.32" fill="#130c00" />
<rect x="99.12" y="253.95" width="12.12" height="2.15" fill="#5a3a00" />
<rect x="99.12" y="255.50" width="12.12" height="2.34" fill="#412a00" />
<rect x="99.12" y="257.24" width="12.12" height="1.47" fill="#412a00" />
<rect x="99.12" y="258.12" width="12.12" height="1.56" fill="#2e1e00" />
<rect x="99.12" y="259.08" width="12.12" height="2.37" fill="#2b1c00" />
<rect x="99.12" y="260.85" width="12.12" height="2.34" fill="#3a2500" />
<rect x="99.12" y="262.59" width="12.12" height="2.22" fill="#070500" />
<rect x="99.12" y="264.21" width="12.12" height="2.22" fill="#8a5900" />
<rect x="99.12" y="265.82" width="12.12" height="2.00" fill="#915e00" />
<rect x="99.12" y="267.23" width="12.12" height="1.86" fill="#8f5d00" />
<rect x="99.12" y="268.48" width="12.12" height="1.45" fill="#925f00" />
<rect x="99.12" y="269.33" width="12.12" height="1.52" fill="#a56b00" />
<rect x="99.12" y="270.26" width="12.12" height="1.84" fill="#996300" />
<rect x="99.12" y="271.50" width="12.12" height="1.66" fill="#946000" />
<rect x="99.12" y="272.56" width="12.12" height="1.22" fill="#8d5b00" />
<rect x="99.12" y="273.18" width="12.12" height="1.93" fill="#d98d00" />
<rect x="99.12" y="274.51" width="12.12" height="2.40" fill="#e29200" />
<rect x="99.12" y="276.31" width="12.12" height="1.64" fill="#c88200" />
<rect x="99.12" y="277.35" width="12.12" height="1.51" fill="#e09100" />
<rect x="99.12" y="278.26" width="12.12" height="1.93" fill="#c07d00" />
<rect x="99.12" y="279.59" width="12.12" height="1.76" fill="#dc8e00" />
<rect x="99.12" y="280.75" width="12.12" height="1.96" fill="#f29c00" />
<rect x="99.12" y="282.11" width="12.12" height="1.99" fill="#d08700" />
<rect x="99.12" y="283.51" width="12.12" height="1.59" fill="#cf8600" />
<rect x="99.12" y="284.50" width="12.12" height="1.50" fill="#f7a000" />
<rect x="110.73" y="238.70" width="12.12" height="2.28" fill="#020100" />
<rect x="110.73" y="240.38" width="12.12" height="1.44" fill="#0f0900" />
<rect x="110.73" y="241.22" width="12.12" height="1.83" fill="#090600" />
<rect x="110.73" y="242.44" width="12.12" height="1.85" fill="#120c00" />
<rect x="110.73" y="243.69" width="12.12" height="1.47" fill="#0c0800" />
<rect x="110.73" y="244.56" width="12.12" height="1.49" fill="#000000" />
<rect x="110.73" y="245.45" width="12.12" height="2.03" fill="#000000" />
<rect x="110.73" y="246.88" width="12.12" height="1.26" fill="#000000" />
<rect x="110.73" y="247.54" width="12.12" height="1.74" fill="#211500" />
<rect x="110.73" y="248.68" width="12.12" height="2.14" fill="#221600" />
<rect x="110.73" y="250.23" width="12.12" height="1.52" fill="#1b1200" />
<rect x="110.73" y="251.15" width="12.12" height="2.12" fill="#100a00" />
<rect x="110.73" y="252.67" width="12.12" height="1.61" fill="#261900" />
<rect x="110.73" y="253.68" width="12.12" height="1.82" fill="#342200" />
<rect x="110.73" y="254.90" width="12.12" height="1.77" fill="#4d3200" />
<rect x="110.73" y="256.07" width="12.12" height="2.32" fill="#412a00" />
<rect x="110.73" y="257.79" width="12.12" height="1.95" fill="#5a3a00" />
<rect x="110.73" y="259.14" width="12.12" height="2.15" fill="#664200" />
<rect x="110.73" y="260.69" width="12.12" height="1.55" fill="#543600" />
<rect x="110.73" y="261.64" width="12.12" height="1.50" fill="#794e00" />
<rect x="110.73" y="262.54" width="12.12" height="1.48" fill="#724900" />
<rect x="110.73" y="263.42" width="12.12" height="1.96" fill="#623f00" />
<rect x="110.73" y="264.79" width="12.12" height="1.70" fill="#774d00" />
<rect x="110.73" y="265.88" width="12.12" height="1.49" fill="#7d5100" />
<rect x="110.73" y="266.77" width="12.12" height="2.06" fill="#452d00" />
<rect x="110.73" y="268.23" width="12.12" height="1.48" fill="#3a2600" />
<rect x="110.73" y="269.11" width="12.12" height="2.10" fill="#543700" />
<rect x="110.73" y="270.62" width="12.12" height="1.68" fill="#7d5100" />
<rect x="110.73" y="271.70" width="12.12" height="2.13" fill="#7f5200" />
<rect x="110.73" y="273.22" width="12.12" height="1.84" fill="#845500" />
<rect x="110.73" y="274.46" width="12.12" height="1.97" fill="#ae7000" />
<rect x="110.73" y="275.83" width="12.12" height="2.32" fill="#bb7900" />
<rect x="110.73" y="277.55" width="12.12" height="1.84" fill="#966100" />
<rect x="110.73" y="278.79" width="12.12" height="1.40" fill="#9d6500" />
<rect x="110.73" y="279.59" width="12.12" height="1.80" fill="#c98200" />
<rect x="110.73" y="280.79" width="12.12" height="2.33" fill="#c68000" />
<rect x="110.73" y="282.52" width="12.12" height="1.76" fill="#b97800" />
<rect x="110.73" y="283.69" width="12.12" height="1.77" fill="#b67600" />
<rect x="110.73" y="284.85" width="12.12" height="1.79" fill="#c88200" />
<rect x="110.73" y="286.04" width="12.12" height="0.60" fill="#aa6e00" />
<rect x="122.35" y="238.70" width="12.12" height="1.94" fill="#000000" />
<rect x="122.35" y="240.04" width="12.12" height="2.24" fill="#000000" />
<rect x="122.35" y="241.68" width="12.12" height="2.62" fill="#000000" />
<rect x="122.35" y="243.69" width="12.12" height="2.28" fill="#150e00" />
<rect x="122.35" y="245.37" width="12.12" height="1.92" fill="#181000" />
<rect x="122.35" y="246.69" width="12.12" height="1.94" fill="#000000" />
<rect x="122.35" y="248.03" width="12.12" height="1.39" fill="#080500" />
<rect x="122.35" y="248.82" width="12.12" height="2.20" fill="#392500" />
<rect x="122.35" y="250.42" width="12.12" height="2.19" fill="#301f00" />
<rect x="122.35" y="252.01" width="12.12" height="1.48" fill="#3c2700" />
<rect x="122.35" y="252.90" width="12.12" height="2.30" fill="#342200" />
<rect x="122.35" y="254.60" width="12.12" height="1.23" fill="#251800" />
<rect x="122.35" y="255.23" width="12.12" height="2.15" fill="#553700" />
<rect x="122.35" y="256.78" width="12.12" height="2.05" fill="#5b3b00" />
<rect x="122.35" y="258.23" width="12.12" height="1.45" fill="#634000" />
<rect x="122.35" y="259.08" width="12.12" height="1.92" fill="#362300" />
<rect x="122.35" y="260.40" width="12.12" height="1.74" fill="#291a00" />
<rect x="122.35" y="261.54" width="12.12" height="2.37" fill="#2e1e00" />
<rect x="122.35" y="263.30" width="12.12" height="1.50" fill="#281a00" />
<rect x="122.35" y="264.21" width="12.12" height="2.12" fill="#8a5900" />
<rect x="122.35" y="265.73" width="12.12" height="1.64" fill="#764d00" />
<rect x="122.35" y="266.77" width="12.12" height="2.23" fill="#1e1300" />
<rect x="122.35" y="268.40" width="12.12" height="1.54" fill="#140d00" />
<rect x="122.35" y="269.33" width="12.12" height="2.23" fill="#aa6e00" />
<rect x="122.35" y="270.97" width="12.12" height="2.04" fill="#7d5100" />
<rect x="122.35" y="272.41" width="12.12" height="1.37" fill="#8c5b00" />
<rect x="122.35" y="273.18" width="12.12" height="1.82" fill="#8a5900" />
<rect x="122.35" y="274.40" width="12.12" height="1.82" fill="#ad7000" />
<rect x="122.35" y="275.62" width="12.12" height="2.39" fill="#b17300" />
<rect x="122.35" y="277.41" width="12.12" height="1.78" fill="#a56b00" />
<rect x="122.35" y="278.59" width="12.12" height="1.60" fill="#a86d00" />
<rect x="122.35" y="279.59" width="12.12" height="1.69" fill="#d38800" />
<rect x="122.35" y="280.68" width="12.12" height="1.71" fill="#ce8500" />
<rect x="122.35" y="281.79" width="12.12" height="1.51" fill="#c17d00" />
<rect x="122.35" y="282.71" width="12.12" height="1.58" fill="#bd7a00" />
<rect x="122.35" y="283.68" width="12.12" height="1.46" fill="#be7b00" />
<rect x="122.35" y="284.55" width="12.12" height="1.45" fill="#d38800" />
<rect x="133.97" y="238.70" width="12.12" height="1.44" fill="#0c0700" />
<rect x="133.97" y="239.54" width="12.12" height="1.62" fill="#0a0700" />
<rect x="133.97" y="240.55" width="12.12" height="1.64" fill="#020100" />
<rect x="133.97" y="241.59" width="12.12" height="1.62" fill="#000000" />
<rect x="133.97" y="242.61" width="12.12" height="1.68" fill="#040200" />
<rect x="133.97" y="243.69" width="12.12" height="2.16" fill="#140d00" />
<rect x="133.97" y="245.25" width="12.12" height="1.71" fill="#000000" />
<rect x="133.97" y="246.36" width="12.12" height="1.88" fill="#060400" />
<rect x="133.97" y="247.64" width="12.12" height="1.78" fill="#221600" />
<rect x="133.97" y="248.82" width="12.12" height="1.74" fill="#000000" />
<rect x="133.97" y="249.96" width="12.12" height="1.95" fill="#130c00" />
<rect x="133.97" y="251.31" width="12.12" height="1.62" fill="#010100" />
<rect x="133.97" y="252.33" width="12.12" height="1.45" fill="#1b1100" />
<rect x="133.97" y="253.18" width="12.12" height="1.78" fill="#000000" />
<rect x="133.97" y="254.37" width="12.12" height="1.93" fill="#000000" />
<rect x="133.97" y="255.69" width="12.12" height="1.42" fill="#040300" />
<rect x="133.97" y="256.51" width="12.12" height="2.06" fill="#352300" />
<rect x="133.97" y="257.97" width="12.12" height="1.87" fill="#372400" />
<rect x="133.97" y="259.24" width="12.12" height="1.77" fill="#3b2600" />
<rect x="133.97" y="260.41" width="12.12" height="1.83" fill="#221600" />
<rect x="133.97" y="261.64" width="12.12" height="1.56" fill="#472e00" />
<rect x="133.97" y="262.60" width="12.12" height="1.66" fill="#4b3000" />
<rect x="133.97" y="263.66" width="12.12" height="2.27" fill="#2f1e00" />
<rect x="133.97" y="265.33" width="12.12" height="2.04" fill="#3f2900" />
<rect x="133.97" y="266.77" width="12.12" height="1.67" fill="#6e4700" />
<rect x="133.97" y="267.84" width="12.12" height="2.10" fill="#744b00" />
<rect x="133.97" y="269.33" width="12.12" height="1.40" fill="#2a1b00" />
<rect x="133.97" y="270.13" width="12.12" height="2.36" fill="#090600" />
<rect x="133.97" y="271.90" width="12.12" height="1.48" fill="#815300" />
<rect x="133.97" y="272.78" width="12.12" height="1.50" fill="#976200" />
<rect x="133.97" y="273.68" width="12.12" height="1.88" fill="#644100" />
<rect x="133.97" y="274.96" width="12.12" height="1.99" fill="#895900" />
<rect x="133.97" y="276.34" width="12.12" height="1.28" fill="#7c5000" />
<rect x="133.97" y="277.03" width="12.12" height="1.82" fill="#d48900" />
<rect x="133.97" y="278.24" width="12.12" height="2.32" fill="#d38800" />
<rect x="133.97" y="279.96" width="12.12" height="1.61" fill="#cc8400" />
<rect x="133.97" y="280.97" width="12.12" height="1.79" fill="#b77700" />
<rect x="133.97" y="282.15" width="12.12" height="2.23" fill="#ae7100" />
<rect x="133.97" y="283.79" width="12.12" height="1.71" fill="#ae7000" />
<rect x="133.97" y="284.90" width="12.12" height="1.71" fill="#b47500" />
<rect x="133.97" y="286.00" width="12.12" height="1.28" fill="#ad7000" />
<rect x="145.58" y="238.70" width="12.12" height="2.09" fill="#000000" />
<rect x="145.58" y="240.19" width="12.12" height="1.51" fill="#000000" />
<rect x="145.58" y="241.09" width="12.12" height="2.37" fill="#0e0900" />
<rect x="145.58" y="242.86" width="12.12" height="1.43" fill="#040300" />
<rect x="145.58" y="243.69" width="12.12" height="1.78" fill="#281a00" />
<rect x="145.58" y="244.87" width="12.12" height="2.11" fill="#2b1c00" />
<rect x="145.58" y="246.38" width="12.12" height="1.76" fill="#3a2600" />
<rect x="145.58" y="247.54" width="12.12" height="1.41" fill="#241700" />
<rect x="145.58" y="248.35" width="12.12" height="1.61" fill="#0c0700" />
<rect x="145.58" y="249.36" width="12.12" height="2.02" fill="#0a0600" />
<rect x="145.58" y="250.77" width="12.12" height="1.94" fill="#191000" />
<rect x="145.58" y="252.11" width="12.12" height="1.16" fill="#060400" />
<rect x="145.58" y="252.67" width="12.12" height="2.07" fill="#402a00" />
<rect x="145.58" y="254.13" width="12.12" height="1.66" fill="#3c2700" />
<rect x="145.58" y="255.19" width="12.12" height="1.73" fill="#492f00" />
<rect x="145.58" y="256.32" width="12.12" height="2.35" fill="#221600" />
<rect x="145.58" y="258.06" width="12.12" height="1.61" fill="#2d1d00" />
<rect x="145.58" y="259.08" width="12.12" height="2.23" fill="#251800" />
<rect x="145.58" y="260.70" width="12.12" height="1.49" fill="#231700" />
<rect x="145.58" y="261.60" width="12.12" height="1.92" fill="#1d1300" />
<rect x="145.58" y="262.92" width="12.12" height="1.80" fill="#533500" />
<rect x="145.58" y="264.13" width="12.12" height="2.24" fill="#563700" />
<rect x="145.58" y="265.76" width="12.12" height="1.61" fill="#573800" />
<rect x="145.58" y="266.77" width="12.12" height="1.56" fill="#714900" />
<rect x="145.58" y="267.73" width="12.12" height="1.47" fill="#714900" />
<rect x="145.58" y="268.60" width="12.12" height="2.32" fill="#5a3a00" />
<rect x="145.58" y="270.32" width="12.12" height="2.18" fill="#6e4700" />
<rect x="145.58" y="271.90" width="12.12" height="2.17" fill="#b57500" />
<rect x="145.58" y="273.46" width="12.12" height="1.73" fill="#a46a00" />
<rect x="145.58" y="274.60" width="12.12" height="1.81" fill="#bc7a00" />
<rect x="145.58" y="275.81" width="12.12" height="2.10" fill="#b17200" />
<rect x="145.58" y="277.31" width="12.12" height="1.60" fill="#b47500" />
<rect x="145.58" y="278.31" width="12.12" height="2.01" fill="#bc7a00" />
<rect x="145.58" y="279.72" width="12.12" height="1.42" fill="#c98200" />
<rect x="145.58" y="280.53" width="12.12" height="2.05" fill="#d98c00" />
<rect x="145.58" y="281.99" width="12.12" height="1.51" fill="#c47f00" />
<rect x="145.58" y="282.89" width="12.12" height="2.19" fill="#d98c00" />
<rect x="145.58" y="284.48" width="12.12" height="1.52" fill="#c98200" />
</g></g>
<text x="87.5" y="234.7" font-size="8.28" text-anchor="middle" font-weight="normal" fill="#1a1a1a" stroke="#1a1a1a" stroke-width="0.08" >DDA MBR- (5619 proteins)</text>
<line x1="23.61" y1="390.70" x2="23.61" y2="395.00" stroke="#333" stroke-width="0.9" />
<text x="0" y="0" font-size="7.5" text-anchor="end" font-weight="normal" fill="#333" stroke="#333" stroke-width="0.08" transform="translate(25.31,397.6) rotate(-90)">A549_1_1</text>
<line x1="35.22" y1="390.70" x2="35.22" y2="395.00" stroke="#333" stroke-width="0.9" />
<text x="0" y="0" font-size="7.5" text-anchor="end" font-weight="normal" fill="#333" stroke="#333" stroke-width="0.08" transform="translate(36.92,397.6) rotate(-90)">A549_1_2</text>
<line x1="46.84" y1="390.70" x2="46.84" y2="395.00" stroke="#333" stroke-width="0.9" />
<text x="0" y="0" font-size="7.5" text-anchor="end" font-weight="normal" fill="#333" stroke="#333" stroke-width="0.08" transform="translate(48.54,397.6) rotate(-90)">A549_1_3</text>
<line x1="58.46" y1="390.70" x2="58.46" y2="395.00" stroke="#333" stroke-width="0.9" />
<text x="0" y="0" font-size="7.5" text-anchor="end" font-weight="normal" fill="#333" stroke="#333" stroke-width="0.08" transform="translate(60.16,397.6) rotate(-90)">A549_1_4</text>
<line x1="70.07" y1="390.70" x2="70.07" y2="395.00" stroke="#333" stroke-width="0.9" />
<text x="0" y="0" font-size="7.5" text-anchor="end" font-weight="normal" fill="#333" stroke="#333" stroke-width="0.08" transform="translate(71.77,397.6) rotate(-90)">A549_2_1</text>
<line x1="81.69" y1="390.70" x2="81.69" y2="395.00" stroke="#333" stroke-width="0.9" />
<text x="0" y="0" font-size="7.5" text-anchor="end" font-weight="normal" fill="#333" stroke="#333" stroke-width="0.08" transform="translate(83.39,397.6) rotate(-90)">A549_2_2</text>
<line x1="93.31" y1="390.70" x2="93.31" y2="395.00" stroke="#333" stroke-width="0.9" />
<text x="0" y="0" font-size="7.5" text-anchor="end" font-weight="normal" fill="#333" stroke="#333" stroke-width="0.08" transform="translate(95.01,397.6) rotate(-90)">A549_2_3</text>
<line x1="104.92" y1="390.70" x2="104.92" y2="395.00" stroke="#333" stroke-width="0.9" />
<text x="0" y="0" font-size="7.5" text-anchor="end" font-weight="normal" fill="#333" stroke="#333" stroke-width="0.08" transform="translate(106.62,397.6) rotate(-90)">A549_2_4</text>
<line x1="116.54" y1="390.70" x2="116.54" y2="395.00" stroke="#333" stroke-width="0.9" />
<text x="0" y="0" font-size="7.5" text-anchor="end" font-weight="normal" fill="#333" stroke="#333" stroke-width="0.08" transform="translate(118.24,397.6) rotate(-90)">A549_3_1</text>
<line x1="128.16" y1="390.70" x2="128.16" y2="395.00" stroke="#333" stroke-width="0.9" />
<text x="0" y="0" font-size="7.5" text-anchor="end" font-weight="normal" fill="#333" stroke="#333" stroke-width="0.08" transform="translate(129.86,397.6) rotate(-90)">A549_3_2</text>
<line x1="139.77" y1="390.70" x2="139.77" y2="395.00" stroke="#333" stroke-width="0.9" />
<text x="0" y="0" font-size="7.5" text-anchor="end" font-weight="normal" fill="#333" stroke="#333" stroke-width="0.08" transform="translate(141.47,397.6) rotate(-90)">A549_3_3</text>
<line x1="151.39" y1="390.70" x2="151.39" y2="395.00" stroke="#333" stroke-width="0.9" />
<text x="0" y="0" font-size="7.5" text-anchor="end" font-weight="normal" fill="#333" stroke="#333" stroke-width="0.08" transform="translate(153.09,397.6) rotate(-90)">A549_3_4</text>
<rect x="185.20" y="238.70" width="139.70" height="152.00" fill="#ffa500" />
<clipPath id="hc1"><rect x="185.2" y="238.7" width="139.70" height="152.00"/></clipPath>
<g clip-path="url(#hc1)"><g filter="url(#vb)" shape-rendering="crispEdges">
<rect x="185.20" y="238.70" width="139.70" height="152.00" fill="#ffa500" />
<rect x="185.20" y="238.70" width="12.14" height="2.17" fill="#080500" />
<rect x="185.20" y="240.27" width="12.14" height="2.30" fill="#010100" />
<rect x="185.20" y="241.97" width="12.14" height="2.32" fill="#090600" />
<rect x="185.20" y="243.69" width="12.14" height="1.54" fill="#221600" />
<rect x="185.20" y="244.63" width="12.14" height="2.22" fill="#060400" />
<rect x="185.20" y="246.26" width="12.14" height="2.12" fill="#0a0600" />
<rect x="185.20" y="247.77" width="12.14" height="2.34" fill="#000000" />
<rect x="185.20" y="249.52" width="12.14" height="1.19" fill="#070400" />
<rect x="185.20" y="250.10" width="12.14" height="1.64" fill="#2f1e00" />
<rect x="185.20" y="251.15" width="12.14" height="1.98" fill="#261900" />
<rect x="185.20" y="252.52" width="12.14" height="2.33" fill="#1f1400" />
<rect x="185.20" y="254.25" width="12.14" height="1.76" fill="#241700" />
<rect x="185.20" y="255.41" width="12.14" height="2.37" fill="#2c1c00" />
<rect x="185.20" y="257.19" width="12.14" height="1.54" fill="#372400" />
<rect x="185.20" y="258.12" width="12.14" height="1.55" fill="#211500" />
<rect x="185.20" y="259.08" width="12.14" height="1.96" fill="#130c00" />
<rect x="185.20" y="260.44" width="12.14" height="2.39" fill="#312000" />
<rect x="185.20" y="262.23" width="12.14" height="1.29" fill="#100b00" />
<rect x="185.20" y="262.92" width="12.14" height="2.22" fill="#4a3000" />
<rect x="185.20" y="264.55" width="12.14" height="1.69" fill="#553700" />
<rect x="185.20" y="265.64" width="12.14" height="1.97" fill="#482e00" />
<rect x="185.20" y="267.01" width="12.14" height="2.23" fill="#543600" />
<rect x="185.20" y="268.64" width="12.14" height="1.29" fill="#5c3c00" />
<rect x="185.20" y="269.33" width="12.14" height="1.43" fill="#a26900" />
<rect x="185.20" y="270.17" width="12.14" height="2.34" fill="#b47400" />
<rect x="185.20" y="271.90" width="12.14" height="2.06" fill="#8b5a00" />
<rect x="185.20" y="273.36" width="12.14" height="1.70" fill="#a36a00" />
<rect x="185.20" y="274.46" width="12.14" height="1.78" fill="#9c6500" />
<rect x="185.20" y="275.64" width="12.14" height="1.42" fill="#a36900" />
<rect x="185.20" y="276.46" width="12.14" height="1.60" fill="#a86d00" />
<rect x="185.20" y="277.46" width="12.14" height="1.79" fill="#b17200" />
<rect x="185.20" y="278.65" width="12.14" height="1.97" fill="#b77600" />
<rect x="185.20" y="280.01" width="12.14" height="1.46" fill="#bd7a00" />
<rect x="185.20" y="280.87" width="12.14" height="1.97" fill="#c58000" />
<rect x="185.20" y="282.24" width="12.14" height="1.44" fill="#de9000" />
<rect x="185.20" y="283.08" width="12.14" height="2.07" fill="#e29200" />
<rect x="185.20" y="284.55" width="12.14" height="2.00" fill="#e89600" />
<rect x="185.20" y="285.95" width="12.14" height="1.87" fill="#bf7c00" />
<rect x="185.20" y="287.22" width="12.14" height="1.35" fill="#d88c00" />
<rect x="196.84" y="238.70" width="12.14" height="2.16" fill="#050300" />
<rect x="196.84" y="240.26" width="12.14" height="2.39" fill="#000000" />
<rect x="196.84" y="242.05" width="12.14" height="2.24" fill="#0d0900" />
<rect x="196.84" y="243.69" width="12.14" height="1.83" fill="#020200" />
<rect x="196.84" y="244.93" width="12.14" height="1.97" fill="#1a1100" />
<rect x="196.84" y="246.29" width="12.14" height="1.93" fill="#040300" />
<rect x="196.84" y="247.62" width="12.14" height="1.83" fill="#160e00" />
<rect x="196.84" y="248.85" width="12.14" height="1.85" fill="#060400" />
<rect x="196.84" y="250.10" width="12.14" height="2.13" fill="#462d00" />
<rect x="196.84" y="251.63" width="12.14" height="2.00" fill="#291b00" />
<rect x="196.84" y="253.03" width="12.14" height="2.15" fill="#301f00" />
<rect x="196.84" y="254.58" width="12.14" height="1.25" fill="#452d00" />
<rect x="196.84" y="255.23" width="12.14" height="1.52" fill="#070500" />
<rect x="196.84" y="256.16" width="12.14" height="1.80" fill="#1b1100" />
<rect x="196.84" y="257.35" width="12.14" height="1.45" fill="#100b00" />
<rect x="196.84" y="258.20" width="12.14" height="1.47" fill="#070500" />
<rect x="196.84" y="259.08" width="12.14" height="1.71" fill="#2e1e00" />
<rect x="196.84" y="260.18" width="12.14" height="1.47" fill="#3b2600" />
<rect x="196.84" y="261.05" width="12.14" height="2.31" fill="#482e00" />
<rect x="196.84" y="262.76" width="12.14" height="2.04" fill="#312000" />
<rect x="196.84" y="264.21" width="12.14" height="1.82" fill="#a36a00" />
<rect x="196.84" y="265.43" width="12.14" height="1.94" fill="#986200" />
<rect x="196.84" y="266.77" width="12.14" height="1.97" fill="#7a4f00" />
<rect x="196.84" y="268.14" width="12.14" height="2.19" fill="#724a00" />
<rect x="196.84" y="269.73" width="12.14" height="1.52" fill="#573800" />
<rect x="196.84" y="270.65" width="12.14" height="1.40" fill="#6e4700" />
<rect x="196.84" y="271.45" width="12.14" height="1.64" fill="#724a00" />
<rect x="196.84" y="272.50" width="12.14" height="1.28" fill="#805300" />
<rect x="196.84" y="273.18" width="12.14" height="2.30" fill="#976200" />
<rect x="196.84" y="274.87" width="12.14" height="1.76" fill="#865700" />
<rect x="196.84" y="276.03" width="12.14" height="1.99" fill="#956000" />
<rect x="196.84" y="277.42" width="12.14" height="1.49" fill="#935f00" />
<rect x="196.84" y="278.31" width="12.14" height="1.71" fill="#a16800" />
<rect x="196.84" y="279.42" width="12.14" height="2.38" fill="#bf7c00" />
<rect x="196.84" y="281.19" width="12.14" height="1.87" fill="#c27d00" />
<rect x="196.84" y="282.47" width="12.14" height="2.32" fill="#c98200" />
<rect x="196.84" y="284.19" width="12.14" height="2.30" fill="#c78100" />
<rect x="196.84" y="285.88" width="12.14" height="1.75" fill="#d68a00" />
<rect x="196.84" y="287.04" width="12.14" height="1.53" fill="#cb8300" />
<rect x="208.48" y="238.70" width="12.14" height="2.40" fill="#1c1200" />
<rect x="208.48" y="240.50" width="12.14" height="1.60" fill="#000000" />
<rect x="208.48" y="241.50" width="12.14" height="2.28" fill="#000000" />
<rect x="208.48" y="243.18" width="12.14" height="1.11" fill="#150e00" />
<rect x="208.48" y="243.69" width="12.14" height="1.71" fill="#422b00" />
<rect x="208.48" y="244.81" width="12.14" height="2.05" fill="#432b00" />
<rect x="208.48" y="246.26" width="12.14" height="1.53" fill="#000000" />
<rect x="208.48" y="247.19" width="12.14" height="2.10" fill="#120c00" />
<rect x="208.48" y="248.69" width="12.14" height="1.48" fill="#000000" />
<rect x="208.48" y="249.57" width="12.14" height="1.14" fill="#000000" />
<rect x="208.48" y="250.10" width="12.14" height="1.60" fill="#281a00" />
<rect x="208.48" y="251.10" width="12.14" height="1.58" fill="#170f00" />
<rect x="208.48" y="252.08" width="12.14" height="2.19" fill="#281a00" />
<rect x="208.48" y="253.67" width="12.14" height="2.16" fill="#080500" />
<rect x="208.48" y="255.23" width="12.14" height="1.99" fill="#2b1c00" />
<rect x="208.48" y="256.62" width="12.14" height="1.63" fill="#382400" />
<rect x="208.48" y="257.65" width="12.14" height="2.07" fill="#5d3c00" />
<rect x="208.48" y="259.12" width="12.14" height="1.68" fill="#3e2800" />
<rect x="208.48" y="260.19" width="12.14" height="2.05" fill="#3d2700" />
<rect x="208.48" y="261.64" width="12.14" height="1.84" fill="#3e2800" />
<rect x="208.48" y="262.88" width="12.14" height="1.45" fill="#4b3000" />
<rect x="208.48" y="263.73" width="12.14" height="2.00" fill="#4b3100" />
<rect x="208.48" y="265.13" width="12.14" height="2.24" fill="#573800" />
<rect x="208.48" y="266.77" width="12.14" height="1.49" fill="#7f5200" />
<rect x="208.48" y="267.66" width="12.14" height="1.65" fill="#986200" />
<rect x="208.48" y="268.70" width="12.14" height="1.68" fill="#7b5000" />
<rect x="208.48" y="269.78" width="12.14" height="2.72" fill="#815300" />
<rect x="208.48" y="271.90" width="12.14" height="2.39" fill="#a06700" />
<rect x="208.48" y="273.69" width="12.14" height="2.15" fill="#956000" />
<rect x="208.48" y="275.24" width="12.14" height="1.78" fill="#9f6700" />
<rect x="208.48" y="276.42" width="12.14" height="1.58" fill="#8b5a00" />
<rect x="208.48" y="277.40" width="12.14" height="1.96" fill="#8a5900" />
<rect x="208.48" y="278.76" width="12.14" height="1.43" fill="#885800" />
<rect x="208.48" y="279.59" width="12.14" height="2.18" fill="#cf8600" />
<rect x="208.48" y="281.17" width="12.14" height="2.25" fill="#dd8f00" />
<rect x="208.48" y="282.82" width="12.14" height="2.08" fill="#bf7c00" />
<rect x="208.48" y="284.30" width="12.14" height="1.57" fill="#da8d00" />
<rect x="208.48" y="285.28" width="12.14" height="2.18" fill="#e79600" />
<rect x="208.48" y="286.86" width="12.14" height="1.64" fill="#ed9a00" />
<rect x="208.48" y="287.89" width="12.14" height="0.67" fill="#e29200" />
<rect x="220.12" y="238.70" width="12.14" height="2.19" fill="#000000" />
<rect x="220.12" y="240.29" width="12.14" height="1.64" fill="#040200" />
<rect x="220.12" y="241.33" width="12.14" height="1.68" fill="#0d0900" />
<rect x="220.12" y="242.41" width="12.14" height="1.88" fill="#5e3d00" />
<rect x="220.12" y="243.69" width="12.14" height="2.11" fill="#191000" />
<rect x="220.12" y="245.21" width="12.14" height="1.97" fill="#1b1200" />
<rect x="220.12" y="246.58" width="12.14" height="1.55" fill="#100a00" />
<rect x="220.12" y="247.53" width="12.14" height="1.89" fill="#080500" />
<rect x="220.12" y="248.82" width="12.14" height="1.84" fill="#2a1b00" />
<rect x="220.12" y="250.06" width="12.14" height="1.66" fill="#2c1c00" />
<rect x="220.12" y="251.13" width="12.14" height="2.14" fill="#251800" />
<rect x="220.12" y="252.67" width="12.14" height="1.97" fill="#201400" />
<rect x="220.12" y="254.04" width="12.14" height="1.64" fill="#2f1f00" />
<rect x="220.12" y="255.07" width="12.14" height="1.55" fill="#342200" />
<rect x="220.12" y="256.02" width="12.14" height="1.71" fill="#392500" />
<rect x="220.12" y="257.13" width="12.14" height="1.26" fill="#2b1c00" />
<rect x="220.12" y="257.79" width="12.14" height="1.99" fill="#593900" />
<rect x="220.12" y="259.18" width="12.14" height="1.49" fill="#5e3d00" />
<rect x="220.12" y="260.07" width="12.14" height="1.65" fill="#533600" />
<rect x="220.12" y="261.13" width="12.14" height="1.56" fill="#523500" />
<rect x="220.12" y="262.09" width="12.14" height="2.19" fill="#442c00" />
<rect x="220.12" y="263.67" width="12.14" height="1.13" fill="#503400" />
<rect x="220.12" y="264.21" width="12.14" height="1.62" fill="#543600" />
<rect x="220.12" y="265.22" width="12.14" height="2.37" fill="#5c3b00" />
<rect x="220.12" y="266.99" width="12.14" height="2.16" fill="#513500" />
<rect x="220.12" y="268.55" width="12.14" height="1.38" fill="#563800" />
<rect x="220.12" y="269.33" width="12.14" height="2.14" fill="#8e5c00" />
<rect x="220.12" y="270.88" width="12.14" height="1.44" fill="#855600" />
<rect x="220.12" y="271.72" width="12.14" height="1.54" fill="#9e6600" />
<rect x="220.12" y="272.66" width="12.14" height="1.79" fill="#7f5200" />
<rect x="220.12" y="273.85" width="12.14" height="1.21" fill="#905d00" />
<rect x="220.12" y="274.46" width="12.14" height="1.43" fill="#c58000" />
<rect x="220.12" y="275.30" width="12.14" height="2.13" fill="#af7100" />
<rect x="220.12" y="276.83" width="12.14" height="1.63" fill="#af7100" />
<rect x="220.12" y="277.86" width="12.14" height="1.64" fill="#c07c00" />
<rect x="220.12" y="278.90" width="12.14" height="1.86" fill="#ba7900" />
<rect x="220.12" y="280.16" width="12.14" height="1.31" fill="#aa6e00" />
<rect x="220.12" y="280.87" width="12.14" height="2.38" fill="#cc8400" />
<rect x="220.12" y="282.65" width="12.14" height="1.80" fill="#cc8400" />
<rect x="220.12" y="283.86" width="12.14" height="2.05" fill="#d98d00" />
<rect x="220.12" y="285.31" width="12.14" height="2.09" fill="#d38800" />
<rect x="220.12" y="286.80" width="12.14" height="1.76" fill="#b87700" />
<rect x="231.77" y="238.70" width="12.14" height="1.86" fill="#000000" />
<rect x="231.77" y="239.96" width="12.14" height="1.79" fill="#0c0800" />
<rect x="231.77" y="241.16" width="12.14" height="2.18" fill="#000000" />
<rect x="231.77" y="242.74" width="12.14" height="1.56" fill="#010000" />
<rect x="231.77" y="243.69" width="12.14" height="1.95" fill="#3c2700" />
<rect x="231.77" y="245.04" width="12.14" height="1.81" fill="#382400" />
<rect x="231.77" y="246.26" width="12.14" height="1.87" fill="#150e00" />
<rect x="231.77" y="247.52" width="12.14" height="1.71" fill="#000000" />
<rect x="231.77" y="248.63" width="12.14" height="2.08" fill="#1a1100" />
<rect x="231.77" y="250.11" width="12.14" height="2.26" fill="#100b00" />
<rect x="231.77" y="251.77" width="12.14" height="1.49" fill="#191000" />
<rect x="231.77" y="252.67" width="12.14" height="2.09" fill="#231700" />
<rect x="231.77" y="254.16" width="12.14" height="1.42" fill="#322000" />
<rect x="231.77" y="254.98" width="12.14" height="1.58" fill="#291b00" />
<rect x="231.77" y="255.96" width="12.14" height="2.44" fill="#372300" />
<rect x="231.77" y="257.79" width="12.14" height="2.12" fill="#402900" />
<rect x="231.77" y="259.31" width="12.14" height="1.55" fill="#4d3200" />
<rect x="231.77" y="260.26" width="12.14" height="1.98" fill="#332100" />
<rect x="231.77" y="261.64" width="12.14" height="2.12" fill="#6b4500" />
<rect x="231.77" y="263.16" width="12.14" height="2.31" fill="#654200" />
<rect x="231.77" y="264.87" width="12.14" height="1.78" fill="#5c3b00" />
<rect x="231.77" y="266.06" width="12.14" height="1.48" fill="#634000" />
<rect x="231.77" y="266.94" width="12.14" height="2.17" fill="#533600" />
<rect x="231.77" y="268.51" width="12.14" height="1.42" fill="#664200" />
<rect x="231.77" y="269.33" width="12.14" height="1.64" fill="#b47400" />
<rect x="231.77" y="270.37" width="12.14" height="1.44" fill="#b97800" />
<rect x="231.77" y="271.21" width="12.14" height="1.28" fill="#bd7b00" />
<rect x="231.77" y="271.90" width="12.14" height="1.71" fill="#593a00" />
<rect x="231.77" y="273.01" width="12.14" height="1.54" fill="#6f4800" />
<rect x="231.77" y="273.95" width="12.14" height="2.11" fill="#664200" />
<rect x="231.77" y="275.45" width="12.14" height="2.07" fill="#7c5000" />
<rect x="231.77" y="276.92" width="12.14" height="1.55" fill="#6a4500" />
<rect x="231.77" y="277.87" width="12.14" height="2.32" fill="#714900" />
<rect x="231.77" y="279.59" width="12.14" height="1.81" fill="#9c6500" />
<rect x="231.77" y="280.80" width="12.14" height="1.63" fill="#c07c00" />
<rect x="231.77" y="281.82" width="12.14" height="1.69" fill="#aa6e00" />
<rect x="231.77" y="282.91" width="12.14" height="1.44" fill="#b77600" />
<rect x="231.77" y="283.75" width="12.14" height="1.56" fill="#a46a00" />
<rect x="231.77" y="284.72" width="12.14" height="2.21" fill="#774d00" />
<rect x="231.77" y="286.33" width="12.14" height="2.38" fill="#7e5100" />
<rect x="231.77" y="288.10" width="12.14" height="1.10" fill="#956100" />
<rect x="243.41" y="238.70" width="12.14" height="1.62" fill="#000000" />
<rect x="243.41" y="239.72" width="12.14" height="2.36" fill="#000000" />
<rect x="243.41" y="241.47" width="12.14" height="1.54" fill="#070400" />
<rect x="243.41" y="242.41" width="12.14" height="1.49" fill="#312000" />
<rect x="243.41" y="243.30" width="12.14" height="1.83" fill="#1c1200" />
<rect x="243.41" y="244.53" width="12.14" height="1.78" fill="#221600" />
<rect x="243.41" y="245.71" width="12.14" height="1.73" fill="#150e00" />
<rect x="243.41" y="246.84" width="12.14" height="1.30" fill="#201400" />
<rect x="243.41" y="247.54" width="12.14" height="1.80" fill="#0e0900" />
<rect x="243.41" y="248.74" width="12.14" height="2.07" fill="#170f00" />
<rect x="243.41" y="250.21" width="12.14" height="1.78" fill="#1f1400" />
<rect x="243.41" y="251.38" width="12.14" height="1.82" fill="#3c2700" />
<rect x="243.41" y="252.61" width="12.14" height="1.55" fill="#241700" />
<rect x="243.41" y="253.56" width="12.14" height="1.95" fill="#2b1c00" />
<rect x="243.41" y="254.91" width="12.14" height="2.20" fill="#422b00" />
<rect x="243.41" y="256.51" width="12.14" height="1.76" fill="#211600" />
<rect x="243.41" y="257.68" width="12.14" height="1.46" fill="#1c1200" />
<rect x="243.41" y="258.54" width="12.14" height="1.90" fill="#221600" />
<rect x="243.41" y="259.84" width="12.14" height="2.41" fill="#140d00" />
<rect x="243.41" y="261.64" width="12.14" height="1.65" fill="#503400" />
<rect x="243.41" y="262.69" width="12.14" height="1.42" fill="#3e2800" />
<rect x="243.41" y="263.52" width="12.14" height="1.97" fill="#644000" />
<rect x="243.41" y="264.88" width="12.14" height="1.66" fill="#493000" />
<rect x="243.41" y="265.95" width="12.14" height="1.87" fill="#462e00" />
<rect x="243.41" y="267.21" width="12.14" height="2.02" fill="#593a00" />
<rect x="243.41" y="268.63" width="12.14" height="1.30" fill="#4a3000" />
<rect x="243.41" y="269.33" width="12.14" height="2.34" fill="#784d00" />
<rect x="243.41" y="271.08" width="12.14" height="2.02" fill="#634000" />
<rect x="243.41" y="272.50" width="12.14" height="1.81" fill="#6c4600" />
<rect x="243.41" y="273.71" width="12.14" height="1.35" fill="#7a4f00" />
<rect x="243.41" y="274.46" width="12.14" height="2.28" fill="#8c5a00" />
<rect x="243.41" y="276.14" width="12.14" height="1.44" fill="#b37400" />
<rect x="243.41" y="276.98" width="12.14" height="1.54" fill="#956100" />
<rect x="243.41" y="277.92" width="12.14" height="1.76" fill="#a06700" />
<rect x="243.41" y="279.08" width="12.14" height="2.40" fill="#a56b00" />
<rect x="243.41" y="280.87" width="12.14" height="1.63" fill="#c68000" />
<rect x="243.41" y="281.90" width="12.14" height="2.08" fill="#bf7b00" />
<rect x="243.41" y="283.38" width="12.14" height="1.94" fill="#bf7c00" />
<rect x="243.41" y="284.72" width="12.14" height="1.79" fill="#c07c00" />
<rect x="243.41" y="285.92" width="12.14" height="1.36" fill="#ce8500" />
<rect x="255.05" y="238.70" width="12.14" height="1.95" fill="#000000" />
<rect x="255.05" y="240.05" width="12.14" height="2.23" fill="#000000" />
<rect x="255.05" y="241.68" width="12.14" height="2.61" fill="#000000" />
<rect x="255.05" y="243.69" width="12.14" height="2.29" fill="#170f00" />
<rect x="255.05" y="245.38" width="12.14" height="1.71" fill="#090600" />
<rect x="255.05" y="246.49" width="12.14" height="2.09" fill="#000000" />
<rect x="255.05" y="247.98" width="12.14" height="2.72" fill="#100a00" />
<rect x="255.05" y="250.10" width="12.14" height="2.02" fill="#2f1e00" />
<rect x="255.05" y="251.52" width="12.14" height="1.89" fill="#2a1b00" />
<rect x="255.05" y="252.81" width="12.14" height="1.73" fill="#311f00" />
<rect x="255.05" y="253.95" width="12.14" height="2.15" fill="#160e00" />
<rect x="255.05" y="255.50" width="12.14" height="1.65" fill="#1d1300" />
<rect x="255.05" y="256.55" width="12.14" height="1.72" fill="#261900" />
<rect x="255.05" y="257.67" width="12.14" height="2.00" fill="#2d1d00" />
<rect x="255.05" y="259.08" width="12.14" height="1.46" fill="#7b4f00" />
<rect x="255.05" y="259.94" width="12.14" height="2.30" fill="#784d00" />
<rect x="255.05" y="261.64" width="12.14" height="1.51" fill="#392500" />
<rect x="255.05" y="262.55" width="12.14" height="1.88" fill="#543600" />
<rect x="255.05" y="263.83" width="12.14" height="1.56" fill="#5f3d00" />
<rect x="255.05" y="264.80" width="12.14" height="1.29" fill="#3a2600" />
<rect x="255.05" y="265.49" width="12.14" height="1.65" fill="#6d4600" />
<rect x="255.05" y="266.54" width="12.14" height="1.79" fill="#825400" />
<rect x="255.05" y="267.73" width="12.14" height="2.12" fill="#835500" />
<rect x="255.05" y="269.25" width="12.14" height="1.97" fill="#976200" />
<rect x="255.05" y="270.62" width="12.14" height="1.73" fill="#935f00" />
<rect x="255.05" y="271.75" width="12.14" height="2.23" fill="#794e00" />
<rect x="255.05" y="273.38" width="12.14" height="1.97" fill="#805300" />
<rect x="255.05" y="274.75" width="12.14" height="2.02" fill="#9b6400" />
<rect x="255.05" y="276.17" width="12.14" height="1.46" fill="#946000" />
<rect x="255.05" y="277.03" width="12.14" height="1.78" fill="#b97700" />
<rect x="255.05" y="278.20" width="12.14" height="2.07" fill="#c07c00" />
<rect x="255.05" y="279.67" width="12.14" height="1.41" fill="#c78100" />
<rect x="255.05" y="280.49" width="12.14" height="2.27" fill="#de9000" />
<rect x="255.05" y="282.15" width="12.14" height="1.53" fill="#d28800" />
<rect x="255.05" y="283.09" width="12.14" height="2.09" fill="#cf8600" />
<rect x="255.05" y="284.58" width="12.14" height="1.80" fill="#e79600" />
<rect x="255.05" y="285.77" width="12.14" height="2.33" fill="#e29200" />
<rect x="255.05" y="287.51" width="12.14" height="1.06" fill="#de9000" />
<rect x="266.69" y="238.70" width="12.14" height="1.52" fill="#201500" />
<rect x="266.69" y="239.62" width="12.14" height="2.13" fill="#181000" />
<rect x="266.69" y="241.15" width="12.14" height="1.86" fill="#1e1300" />
<rect x="266.69" y="242.41" width="12.14" height="1.43" fill="#3d2800" />
<rect x="266.69" y="243.24" width="12.14" height="1.94" fill="#291b00" />
<rect x="266.69" y="244.58" width="12.14" height="1.71" fill="#372300" />
<rect x="266.69" y="245.69" width="12.14" height="2.20" fill="#3b2600" />
<rect x="266.69" y="247.29" width="12.14" height="2.13" fill="#2c1d00" />
<rect x="266.69" y="248.82" width="12.14" height="2.02" fill="#191000" />
<rect x="266.69" y="250.24" width="12.14" height="1.79" fill="#000000" />
<rect x="266.69" y="251.43" width="12.14" height="2.09" fill="#000000" />
<rect x="266.69" y="252.92" width="12.14" height="1.63" fill="#0f0a00" />
<rect x="266.69" y="253.95" width="12.14" height="1.58" fill="#4d3200" />
<rect x="266.69" y="254.92" width="12.14" height="1.65" fill="#482e00" />
<rect x="266.69" y="255.98" width="12.14" height="1.89" fill="#3e2800" />
<rect x="266.69" y="257.26" width="12.14" height="1.13" fill="#3d2800" />
<rect x="266.69" y="257.79" width="12.14" height="1.97" fill="#2b1c00" />
<rect x="266.69" y="259.16" width="12.14" height="1.67" fill="#2d1d00" />
<rect x="266.69" y="260.23" width="12.14" height="2.01" fill="#130d00" />
<rect x="266.69" y="261.64" width="12.14" height="1.66" fill="#694400" />
<rect x="266.69" y="262.70" width="12.14" height="1.45" fill="#805300" />
<rect x="266.69" y="263.55" width="12.14" height="1.71" fill="#724a00" />
<rect x="266.69" y="264.66" width="12.14" height="1.48" fill="#6e4700" />
<rect x="266.69" y="265.54" width="12.14" height="1.83" fill="#754c00" />
<rect x="266.69" y="266.77" width="12.14" height="1.60" fill="#8d5b00" />
<rect x="266.69" y="267.77" width="12.14" height="1.81" fill="#784e00" />
<rect x="266.69" y="268.99" width="12.14" height="2.21" fill="#805300" />
<rect x="266.69" y="270.59" width="12.14" height="1.95" fill="#865700" />
<rect x="266.69" y="271.94" width="12.14" height="1.84" fill="#7c5000" />
<rect x="266.69" y="273.18" width="12.14" height="2.34" fill="#996300" />
<rect x="266.69" y="274.92" width="12.14" height="2.26" fill="#ae7100" />
<rect x="266.69" y="276.58" width="12.14" height="2.23" fill="#a06700" />
<rect x="266.69" y="278.22" width="12.14" height="1.97" fill="#a26900" />
<rect x="266.69" y="279.59" width="12.14" height="1.57" fill="#784e00" />
<rect x="266.69" y="280.56" width="12.14" height="1.52" fill="#805300" />
<rect x="266.69" y="281.48" width="12.14" height="2.15" fill="#7b4f00" />
<rect x="266.69" y="283.03" width="12.14" height="1.71" fill="#734b00" />
<rect x="266.69" y="284.14" width="12.14" height="1.61" fill="#754c00" />
<rect x="266.69" y="285.15" width="12.14" height="1.45" fill="#855600" />
<rect x="266.69" y="286.00" width="12.14" height="2.21" fill="#d08600" />
<rect x="266.69" y="287.61" width="12.14" height="1.60" fill="#cd8500" />
<rect x="278.33" y="238.70" width="12.14" height="2.20" fill="#000000" />
<rect x="278.33" y="240.30" width="12.14" height="2.23" fill="#090600" />
<rect x="278.33" y="241.93" width="12.14" height="1.50" fill="#000000" />
<rect x="278.33" y="242.83" width="12.14" height="2.74" fill="#000000" />
<rect x="278.33" y="244.97" width="12.14" height="1.65" fill="#181000" />
<rect x="278.33" y="246.02" width="12.14" height="2.31" fill="#1d1300" />
<rect x="278.33" y="247.73" width="12.14" height="1.63" fill="#0f0a00" />
<rect x="278.33" y="248.76" width="12.14" height="1.94" fill="#000000" />
<rect x="278.33" y="250.10" width="12.14" height="2.21" fill="#2d1d00" />
<rect x="278.33" y="251.71" width="12.14" height="1.76" fill="#180f00" />
<rect x="278.33" y="252.88" width="12.14" height="1.68" fill="#160e00" />
<rect x="278.33" y="253.96" width="12.14" height="1.87" fill="#1d1300" />
<rect x="278.33" y="255.23" width="12.14" height="1.73" fill="#1b1100" />
<rect x="278.33" y="256.37" width="12.14" height="2.14" fill="#1b1100" />
<rect x="278.33" y="257.91" width="12.14" height="1.95" fill="#2a1b00" />
<rect x="278.33" y="259.25" width="12.14" height="2.08" fill="#181000" />
<rect x="278.33" y="260.73" width="12.14" height="1.51" fill="#1b1200" />
<rect x="278.33" y="261.64" width="12.14" height="1.75" fill="#664200" />
<rect x="278.33" y="262.79" width="12.14" height="1.90" fill="#684300" />
<rect x="278.33" y="264.09" width="12.14" height="1.80" fill="#613f00" />
<rect x="278.33" y="265.30" width="12.14" height="2.07" fill="#764c00" />
<rect x="278.33" y="266.77" width="12.14" height="1.60" fill="#9a6400" />
<rect x="278.33" y="267.77" width="12.14" height="2.15" fill="#8a5900" />
<rect x="278.33" y="269.33" width="12.14" height="1.51" fill="#9f6700" />
<rect x="278.33" y="270.24" width="12.14" height="2.36" fill="#915e00" />
<rect x="278.33" y="272.00" width="12.14" height="1.78" fill="#815300" />
<rect x="278.33" y="273.18" width="12.14" height="1.58" fill="#805300" />
<rect x="278.33" y="274.16" width="12.14" height="1.67" fill="#684300" />
<rect x="278.33" y="275.23" width="12.14" height="1.72" fill="#593a00" />
<rect x="278.33" y="276.35" width="12.14" height="1.58" fill="#5d3c00" />
<rect x="278.33" y="277.34" width="12.14" height="1.57" fill="#935f00" />
<rect x="278.33" y="278.31" width="12.14" height="2.03" fill="#b27300" />
<rect x="278.33" y="279.74" width="12.14" height="1.61" fill="#cb8400" />
<rect x="278.33" y="280.75" width="12.14" height="2.00" fill="#d28800" />
<rect x="278.33" y="282.15" width="12.14" height="2.03" fill="#ce8500" />
<rect x="278.33" y="283.58" width="12.14" height="1.90" fill="#d98c00" />
<rect x="278.33" y="284.89" width="12.14" height="2.24" fill="#dc8e00" />
<rect x="278.33" y="286.52" width="12.14" height="2.09" fill="#cc8400" />
<rect x="278.33" y="288.01" width="12.14" height="0.55" fill="#e49300" />
<rect x="289.97" y="238.70" width="12.14" height="1.78" fill="#070500" />
<rect x="289.97" y="239.88" width="12.14" height="1.97" fill="#160e00" />
<rect x="289.97" y="241.26" width="12.14" height="1.92" fill="#170f00" />
<rect x="289.97" y="242.57" width="12.14" height="1.72" fill="#090600" />
<rect x="289.97" y="243.69" width="12.14" height="1.99" fill="#070500" />
<rect x="289.97" y="245.09" width="12.14" height="1.55" fill="#0f0a00" />
<rect x="289.97" y="246.04" width="12.14" height="1.87" fill="#342200" />
<rect x="289.97" y="247.31" width="12.14" height="2.11" fill="#1f1400" />
<rect x="289.97" y="248.82" width="12.14" height="2.14" fill="#372400" />
<rect x="289.97" y="250.36" width="12.14" height="2.27" fill="#291b00" />
<rect x="289.97" y="252.02" width="12.14" height="1.53" fill="#392500" />
<rect x="289.97" y="252.95" width="12.14" height="1.60" fill="#291b00" />
<rect x="289.97" y="253.95" width="12.14" height="2.24" fill="#634000" />
<rect x="289.97" y="255.59" width="12.14" height="2.23" fill="#5d3c00" />
<rect x="289.97" y="257.22" width="12.14" height="1.18" fill="#4f3300" />
<rect x="289.97" y="257.79" width="12.14" height="1.46" fill="#322100" />
<rect x="289.97" y="258.66" width="12.14" height="2.27" fill="#332100" />
<rect x="289.97" y="260.33" width="12.14" height="2.21" fill="#2c1c00" />
<rect x="289.97" y="261.94" width="12.14" height="1.59" fill="#1c1200" />
<rect x="289.97" y="262.92" width="12.14" height="1.60" fill="#623f00" />
<rect x="289.97" y="263.92" width="12.14" height="1.68" fill="#644100" />
<rect x="289.97" y="265.00" width="12.14" height="1.95" fill="#644000" />
<rect x="289.97" y="266.35" width="12.14" height="2.19" fill="#5e3d00" />
<rect x="289.97" y="267.94" width="12.14" height="1.99" fill="#684300" />
<rect x="289.97" y="269.33" width="12.14" height="2.26" fill="#5c3c00" />
<rect x="289.97" y="270.99" width="12.14" height="2.31" fill="#4a3000" />
<rect x="289.97" y="272.69" width="12.14" height="2.37" fill="#613f00" />
<rect x="289.97" y="274.46" width="12.14" height="1.50" fill="#aa6e00" />
<rect x="289.97" y="275.36" width="12.14" height="1.44" fill="#925e00" />
<rect x="289.97" y="276.20" width="12.14" height="2.23" fill="#b57500" />
<rect x="289.97" y="277.83" width="12.14" height="1.52" fill="#a66b00" />
<rect x="289.97" y="278.75" width="12.14" height="2.25" fill="#ac6f00" />
<rect x="289.97" y="280.40" width="12.14" height="2.35" fill="#a46a00" />
<rect x="289.97" y="282.15" width="12.14" height="2.39" fill="#cc8400" />
<rect x="289.97" y="283.94" width="12.14" height="1.61" fill="#bc7a00" />
<rect x="289.97" y="284.95" width="12.14" height="2.13" fill="#bc7900" />
<rect x="289.97" y="286.48" width="12.14" height="1.60" fill="#c88100" />
<rect x="289.97" y="287.47" width="12.14" height="1.42" fill="#c37e00" />
<rect x="289.97" y="288.29" width="12.14" height="0.92" fill="#c78100" />
<rect x="301.62" y="238.70" width="12.14" height="1.68" fill="#120c00" />
<rect x="301.62" y="239.78" width="12.14" height="2.00" fill="#000000" />
<rect x="301.62" y="241.18" width="12.14" height="1.53" fill="#000000" />
<rect x="301.62" y="242.11" width="12.14" height="2.09" fill="#000000" />
<rect x="301.62" y="243.60" width="12.14" height="1.52" fill="#030200" />
<rect x="301.62" y="244.52" width="12.14" height="2.34" fill="#000000" />
<rect x="301.62" y="246.26" width="12.14" height="1.60" fill="#180f00" />
<rect x="301.62" y="247.25" width="12.14" height="2.39" fill="#181000" />
<rect x="301.62" y="249.05" width="12.14" height="1.76" fill="#0c0800" />
<rect x="301.62" y="250.21" width="12.14" height="1.78" fill="#191000" />
<rect x="301.62" y="251.38" width="12.14" height="2.03" fill="#392500" />
<rect x="301.62" y="252.82" width="12.14" height="1.82" fill="#3b2600" />
<rect x="301.62" y="254.04" width="12.14" height="1.79" fill="#291b00" />
<rect x="301.62" y="255.23" width="12.14" height="1.91" fill="#8e5c00" />
<rect x="301.62" y="256.54" width="12.14" height="1.86" fill="#7f5200" />
<rect x="301.62" y="257.79" width="12.14" height="1.64" fill="#442c00" />
<rect x="301.62" y="258.83" width="12.14" height="2.27" fill="#482f00" />
<rect x="301.62" y="260.50" width="12.14" height="1.69" fill="#593a00" />
<rect x="301.62" y="261.59" width="12.14" height="1.85" fill="#3e2800" />
<rect x="301.62" y="262.84" width="12.14" height="2.33" fill="#3d2800" />
<rect x="301.62" y="264.58" width="12.14" height="2.00" fill="#5b3b00" />
<rect x="301.62" y="265.98" width="12.14" height="1.39" fill="#5a3a00" />
<rect x="301.62" y="266.77" width="12.14" height="1.68" fill="#533600" />
<rect x="301.62" y="267.85" width="12.14" height="1.84" fill="#583900" />
<rect x="301.62" y="269.09" width="12.14" height="2.09" fill="#4a3000" />
<rect x="301.62" y="270.59" width="12.14" height="1.91" fill="#4e3200" />
<rect x="301.62" y="271.90" width="12.14" height="1.53" fill="#ae7000" />
<rect x="301.62" y="272.83" width="12.14" height="2.30" fill="#a06800" />
<rect x="301.62" y="274.52" width="12.14" height="1.82" fill="#ae7000" />
<rect x="301.62" y="275.74" width="12.14" height="2.22" fill="#b97800" />
<rect x="301.62" y="277.36" width="12.14" height="1.95" fill="#a26900" />
<rect x="301.62" y="278.71" width="12.14" height="1.50" fill="#b47400" />
<rect x="301.62" y="279.61" width="12.14" height="1.86" fill="#ac6f00" />
<rect x="301.62" y="280.87" width="12.14" height="1.77" fill="#cb8400" />
<rect x="301.62" y="282.05" width="12.14" height="1.74" fill="#bc7900" />
<rect x="301.62" y="283.19" width="12.14" height="2.30" fill="#d18700" />
<rect x="301.62" y="284.89" width="12.14" height="2.03" fill="#ce8500" />
<rect x="301.62" y="286.32" width="12.14" height="1.87" fill="#c58000" />
<rect x="301.62" y="287.59" width="12.14" height="0.97" fill="#d98d00" />
<rect x="313.26" y="238.70" width="12.14" height="2.07" fill="#000000" />
<rect x="313.26" y="240.17" width="12.14" height="2.84" fill="#010100" />
<rect x="313.26" y="242.41" width="12.14" height="2.39" fill="#000000" />
<rect x="313.26" y="244.20" width="12.14" height="2.05" fill="#140d00" />
<rect x="313.26" y="245.65" width="12.14" height="2.49" fill="#0a0600" />
<rect x="313.26" y="247.54" width="12.14" height="1.86" fill="#0d0800" />
<rect x="313.26" y="248.80" width="12.14" height="1.80" fill="#080500" />
<rect x="313.26" y="250.00" width="12.14" height="2.39" fill="#050300" />
<rect x="313.26" y="251.79" width="12.14" height="1.61" fill="#080500" />
<rect x="313.26" y="252.80" width="12.14" height="1.79" fill="#120c00" />
<rect x="313.26" y="254.00" width="12.14" height="1.83" fill="#130d00" />
<rect x="313.26" y="255.23" width="12.14" height="2.05" fill="#392500" />
<rect x="313.26" y="256.68" width="12.14" height="2.02" fill="#352200" />
<rect x="313.26" y="258.10" width="12.14" height="2.21" fill="#2c1c00" />
<rect x="313.26" y="259.71" width="12.14" height="1.25" fill="#362300" />
<rect x="313.26" y="260.36" width="12.14" height="1.87" fill="#543600" />
<rect x="313.26" y="261.63" width="12.14" height="1.42" fill="#6e4700" />
<rect x="313.26" y="262.44" width="12.14" height="2.30" fill="#432b00" />
<rect x="313.26" y="264.14" width="12.14" height="1.42" fill="#513400" />
<rect x="313.26" y="264.96" width="12.14" height="2.41" fill="#674300" />
<rect x="313.26" y="266.77" width="12.14" height="1.51" fill="#6a4500" />
<rect x="313.26" y="267.68" width="12.14" height="1.91" fill="#5d3c00" />
<rect x="313.26" y="268.99" width="12.14" height="1.52" fill="#613f00" />
<rect x="313.26" y="269.91" width="12.14" height="1.49" fill="#654100" />
<rect x="313.26" y="270.80" width="12.14" height="1.70" fill="#623f00" />
<rect x="313.26" y="271.90" width="12.14" height="1.65" fill="#a76c00" />
<rect x="313.26" y="272.94" width="12.14" height="1.81" fill="#9a6400" />
<rect x="313.26" y="274.16" width="12.14" height="1.85" fill="#956000" />
<rect x="313.26" y="275.41" width="12.14" height="1.96" fill="#7a4f00" />
<rect x="313.26" y="276.77" width="12.14" height="1.50" fill="#986200" />
<rect x="313.26" y="277.67" width="12.14" height="1.24" fill="#a56b00" />
<rect x="313.26" y="278.31" width="12.14" height="1.92" fill="#db8e00" />
<rect x="313.26" y="279.63" width="12.14" height="1.81" fill="#ab6f00" />
<rect x="313.26" y="280.84" width="12.14" height="2.36" fill="#ae7100" />
<rect x="313.26" y="282.60" width="12.14" height="1.81" fill="#c68000" />
<rect x="313.26" y="283.82" width="12.14" height="2.22" fill="#bf7c00" />
<rect x="313.26" y="285.43" width="12.14" height="0.57" fill="#bd7a00" />
</g></g>
<text x="255.04999999999998" y="234.7" font-size="8.28" text-anchor="middle" font-weight="normal" fill="#1a1a1a" stroke="#1a1a1a" stroke-width="0.08" >DDA+ MBR- (6585 proteins)</text>
<line x1="191.02" y1="390.70" x2="191.02" y2="395.00" stroke="#333" stroke-width="0.9" />
<text x="0" y="0" font-size="7.5" text-anchor="end" font-weight="normal" fill="#333" stroke="#333" stroke-width="0.08" transform="translate(192.72,397.6) rotate(-90)">A549_1_1</text>
<line x1="202.66" y1="390.70" x2="202.66" y2="395.00" stroke="#333" stroke-width="0.9" />
<text x="0" y="0" font-size="7.5" text-anchor="end" font-weight="normal" fill="#333" stroke="#333" stroke-width="0.08" transform="translate(204.36,397.6) rotate(-90)">A549_1_2</text>
<line x1="214.30" y1="390.70" x2="214.30" y2="395.00" stroke="#333" stroke-width="0.9" />
<text x="0" y="0" font-size="7.5" text-anchor="end" font-weight="normal" fill="#333" stroke="#333" stroke-width="0.08" transform="translate(216.00,397.6) rotate(-90)">A549_1_3</text>
<line x1="225.95" y1="390.70" x2="225.95" y2="395.00" stroke="#333" stroke-width="0.9" />
<text x="0" y="0" font-size="7.5" text-anchor="end" font-weight="normal" fill="#333" stroke="#333" stroke-width="0.08" transform="translate(227.65,397.6) rotate(-90)">A549_1_4</text>
<line x1="237.59" y1="390.70" x2="237.59" y2="395.00" stroke="#333" stroke-width="0.9" />
<text x="0" y="0" font-size="7.5" text-anchor="end" font-weight="normal" fill="#333" stroke="#333" stroke-width="0.08" transform="translate(239.29,397.6) rotate(-90)">A549_2_1</text>
<line x1="249.23" y1="390.70" x2="249.23" y2="395.00" stroke="#333" stroke-width="0.9" />
<text x="0" y="0" font-size="7.5" text-anchor="end" font-weight="normal" fill="#333" stroke="#333" stroke-width="0.08" transform="translate(250.93,397.6) rotate(-90)">A549_2_2</text>
<line x1="260.87" y1="390.70" x2="260.87" y2="395.00" stroke="#333" stroke-width="0.9" />
<text x="0" y="0" font-size="7.5" text-anchor="end" font-weight="normal" fill="#333" stroke="#333" stroke-width="0.08" transform="translate(262.57,397.6) rotate(-90)">A549_2_3</text>
<line x1="272.51" y1="390.70" x2="272.51" y2="395.00" stroke="#333" stroke-width="0.9" />
<text x="0" y="0" font-size="7.5" text-anchor="end" font-weight="normal" fill="#333" stroke="#333" stroke-width="0.08" transform="translate(274.21,397.6) rotate(-90)">A549_2_4</text>
<line x1="284.15" y1="390.70" x2="284.15" y2="395.00" stroke="#333" stroke-width="0.9" />
<text x="0" y="0" font-size="7.5" text-anchor="end" font-weight="normal" fill="#333" stroke="#333" stroke-width="0.08" transform="translate(285.85,397.6) rotate(-90)">A549_3_1</text>
<line x1="295.80" y1="390.70" x2="295.80" y2="395.00" stroke="#333" stroke-width="0.9" />
<text x="0" y="0" font-size="7.5" text-anchor="end" font-weight="normal" fill="#333" stroke="#333" stroke-width="0.08" transform="translate(297.50,397.6) rotate(-90)">A549_3_2</text>
<line x1="307.44" y1="390.70" x2="307.44" y2="395.00" stroke="#333" stroke-width="0.9" />
<text x="0" y="0" font-size="7.5" text-anchor="end" font-weight="normal" fill="#333" stroke="#333" stroke-width="0.08" transform="translate(309.14,397.6) rotate(-90)">A549_3_3</text>
<line x1="319.08" y1="390.70" x2="319.08" y2="395.00" stroke="#333" stroke-width="0.9" />
<text x="0" y="0" font-size="7.5" text-anchor="end" font-weight="normal" fill="#333" stroke="#333" stroke-width="0.08" transform="translate(320.78,397.6) rotate(-90)">A549_3_4</text>
<rect x="364.90" y="238.70" width="139.60" height="152.00" fill="#ffa500" />
<clipPath id="hc2"><rect x="364.9" y="238.7" width="139.60" height="152.00"/></clipPath>
<g clip-path="url(#hc2)"><g filter="url(#vb)" shape-rendering="crispEdges">
<rect x="364.90" y="238.70" width="139.60" height="152.00" fill="#ffa500" />
<rect x="364.90" y="238.70" width="12.13" height="1.93" fill="#000000" />
<rect x="364.90" y="240.03" width="12.13" height="1.43" fill="#0d0900" />
<rect x="364.90" y="240.86" width="12.13" height="1.36" fill="#0c0800" />
<rect x="364.90" y="241.62" width="12.13" height="1.62" fill="#4f3300" />
<rect x="364.90" y="242.64" width="12.13" height="1.62" fill="#160e00" />
<rect x="364.90" y="243.66" width="12.13" height="1.48" fill="#593900" />
<rect x="364.90" y="244.54" width="12.13" height="1.77" fill="#5f3e00" />
<rect x="364.90" y="245.71" width="12.13" height="1.73" fill="#a06800" />
<rect x="364.90" y="246.84" width="12.13" height="2.54" fill="#b47400" />
<rect x="364.90" y="248.77" width="12.13" height="2.64" fill="#724a00" />
<rect x="364.90" y="250.82" width="12.13" height="2.30" fill="#c68000" />
<rect x="364.90" y="252.52" width="12.13" height="1.79" fill="#c68000" />
<rect x="364.90" y="253.72" width="12.13" height="1.28" fill="#e09100" />
<rect x="364.90" y="254.39" width="12.13" height="1.53" fill="#a56b00" />
<rect x="376.53" y="238.70" width="12.13" height="1.76" fill="#201500" />
<rect x="376.53" y="239.86" width="12.13" height="1.34" fill="#160e00" />
<rect x="376.53" y="240.60" width="12.13" height="2.24" fill="#412a00" />
<rect x="376.53" y="242.23" width="12.13" height="1.52" fill="#301f00" />
<rect x="376.53" y="243.15" width="12.13" height="1.80" fill="#7d5100" />
<rect x="376.53" y="244.35" width="12.13" height="1.62" fill="#895900" />
<rect x="376.53" y="245.38" width="12.13" height="1.71" fill="#875700" />
<rect x="376.53" y="246.49" width="12.13" height="1.88" fill="#825400" />
<rect x="376.53" y="247.77" width="12.13" height="1.60" fill="#956000" />
<rect x="376.53" y="248.77" width="12.13" height="1.41" fill="#bd7a00" />
<rect x="376.53" y="249.58" width="12.13" height="1.41" fill="#eb9800" />
<rect x="376.53" y="250.39" width="12.13" height="1.54" fill="#e59400" />
<rect x="376.53" y="251.33" width="12.13" height="2.00" fill="#c98200" />
<rect x="376.53" y="252.73" width="12.13" height="2.27" fill="#c68000" />
<rect x="376.53" y="254.39" width="12.13" height="1.99" fill="#d08600" />
<rect x="376.53" y="255.78" width="12.13" height="0.65" fill="#b07200" />
<rect x="388.17" y="238.70" width="12.13" height="2.50" fill="#4d3200" />
<rect x="388.17" y="240.60" width="12.13" height="1.45" fill="#2e1e00" />
<rect x="388.17" y="241.45" width="12.13" height="1.67" fill="#2c1c00" />
<rect x="388.17" y="242.52" width="12.13" height="2.25" fill="#100a00" />
<rect x="388.17" y="244.17" width="12.13" height="1.80" fill="#7e5200" />
<rect x="388.17" y="245.38" width="12.13" height="1.44" fill="#704900" />
<rect x="388.17" y="246.22" width="12.13" height="2.38" fill="#875800" />
<rect x="388.17" y="248.00" width="12.13" height="1.88" fill="#875700" />
<rect x="388.17" y="249.28" width="12.13" height="2.22" fill="#e39300" />
<rect x="388.17" y="250.90" width="12.13" height="2.19" fill="#d68a00" />
<rect x="388.17" y="252.49" width="12.13" height="2.16" fill="#d58a00" />
<rect x="388.17" y="254.06" width="12.13" height="1.45" fill="#cd8500" />
<rect x="388.17" y="254.90" width="12.13" height="1.53" fill="#cd8500" />
<rect x="399.80" y="238.70" width="12.13" height="1.99" fill="#2a1b00" />
<rect x="399.80" y="240.09" width="12.13" height="2.64" fill="#5d3c00" />
<rect x="399.80" y="242.13" width="12.13" height="1.98" fill="#885800" />
<rect x="399.80" y="243.51" width="12.13" height="1.26" fill="#734b00" />
<rect x="399.80" y="244.17" width="12.13" height="2.08" fill="#764c00" />
<rect x="399.80" y="245.65" width="12.13" height="1.47" fill="#563800" />
<rect x="399.80" y="246.53" width="12.13" height="1.31" fill="#452d00" />
<rect x="399.80" y="247.24" width="12.13" height="1.78" fill="#ba7900" />
<rect x="399.80" y="248.42" width="12.13" height="1.85" fill="#ad7000" />
<rect x="399.80" y="249.67" width="12.13" height="1.24" fill="#b57500" />
<rect x="399.80" y="250.31" width="12.13" height="2.13" fill="#de9000" />
<rect x="399.80" y="251.84" width="12.13" height="2.23" fill="#db8e00" />
<rect x="399.80" y="253.47" width="12.13" height="2.07" fill="#d38800" />
<rect x="399.80" y="254.94" width="12.13" height="1.52" fill="#d78b00" />
<rect x="399.80" y="255.86" width="12.13" height="0.58" fill="#e89600" />
<rect x="411.43" y="238.70" width="12.13" height="2.50" fill="#885800" />
<rect x="411.43" y="240.60" width="12.13" height="1.61" fill="#4c3100" />
<rect x="411.43" y="241.61" width="12.13" height="1.12" fill="#613f00" />
<rect x="411.43" y="242.13" width="12.13" height="1.52" fill="#8a5900" />
<rect x="411.43" y="243.05" width="12.13" height="1.21" fill="#754c00" />
<rect x="411.43" y="243.66" width="12.13" height="2.13" fill="#3f2900" />
<rect x="411.43" y="245.20" width="12.13" height="2.64" fill="#805300" />
<rect x="411.43" y="247.24" width="12.13" height="1.89" fill="#885800" />
<rect x="411.43" y="248.53" width="12.13" height="2.37" fill="#815300" />
<rect x="411.43" y="250.31" width="12.13" height="1.51" fill="#b27300" />
<rect x="411.43" y="251.21" width="12.13" height="1.99" fill="#ab6f00" />
<rect x="411.43" y="252.60" width="12.13" height="1.37" fill="#ae7100" />
<rect x="411.43" y="253.37" width="12.13" height="1.75" fill="#c68000" />
<rect x="411.43" y="254.52" width="12.13" height="1.99" fill="#b37400" />
<rect x="411.43" y="255.91" width="12.13" height="0.52" fill="#be7b00" />
<rect x="423.07" y="238.70" width="12.13" height="2.24" fill="#684300" />
<rect x="423.07" y="240.34" width="12.13" height="1.37" fill="#805300" />
<rect x="423.07" y="241.11" width="12.13" height="2.38" fill="#503400" />
<rect x="423.07" y="242.89" width="12.13" height="1.37" fill="#6b4500" />
<rect x="423.07" y="243.66" width="12.13" height="1.66" fill="#8a5900" />
<rect x="423.07" y="244.73" width="12.13" height="1.58" fill="#7c5000" />
<rect x="423.07" y="245.71" width="12.13" height="1.46" fill="#452d00" />
<rect x="423.07" y="246.57" width="12.13" height="2.29" fill="#352200" />
<rect x="423.07" y="248.26" width="12.13" height="1.83" fill="#674200" />
<rect x="423.07" y="249.50" width="12.13" height="1.41" fill="#684300" />
<rect x="423.07" y="250.31" width="12.13" height="2.31" fill="#986200" />
<rect x="423.07" y="252.02" width="12.13" height="1.63" fill="#aa6e00" />
<rect x="423.07" y="253.05" width="12.13" height="1.95" fill="#ae7100" />
<rect x="423.07" y="254.39" width="12.13" height="2.04" fill="#d38800" />
<rect x="434.70" y="238.70" width="12.13" height="1.44" fill="#3a2600" />
<rect x="434.70" y="239.54" width="12.13" height="2.17" fill="#301f00" />
<rect x="434.70" y="241.11" width="12.13" height="1.73" fill="#6b4500" />
<rect x="434.70" y="242.24" width="12.13" height="2.02" fill="#734a00" />
<rect x="434.70" y="243.66" width="12.13" height="2.13" fill="#925e00" />
<rect x="434.70" y="245.20" width="12.13" height="1.62" fill="#805300" />
<rect x="434.70" y="246.22" width="12.13" height="1.60" fill="#623f00" />
<rect x="434.70" y="247.21" width="12.13" height="1.14" fill="#6f4800" />
<rect x="434.70" y="247.75" width="12.13" height="2.13" fill="#815400" />
<rect x="434.70" y="249.28" width="12.13" height="2.32" fill="#b27300" />
<rect x="434.70" y="251.01" width="12.13" height="1.94" fill="#ab6e00" />
<rect x="434.70" y="252.35" width="12.13" height="2.12" fill="#f09c00" />
<rect x="434.70" y="253.87" width="12.13" height="1.55" fill="#e69500" />
<rect x="446.33" y="238.70" width="12.13" height="1.66" fill="#090600" />
<rect x="446.33" y="239.76" width="12.13" height="1.94" fill="#291b00" />
<rect x="446.33" y="241.11" width="12.13" height="1.65" fill="#4f3300" />
<rect x="446.33" y="242.16" width="12.13" height="1.69" fill="#4c3100" />
<rect x="446.33" y="243.26" width="12.13" height="1.52" fill="#533600" />
<rect x="446.33" y="244.17" width="12.13" height="2.13" fill="#241700" />
<rect x="446.33" y="245.71" width="12.13" height="1.91" fill="#c98200" />
<rect x="446.33" y="247.02" width="12.13" height="2.27" fill="#cd8500" />
<rect x="446.33" y="248.69" width="12.13" height="1.19" fill="#d58a00" />
<rect x="446.33" y="249.28" width="12.13" height="2.01" fill="#855600" />
<rect x="446.33" y="250.69" width="12.13" height="1.23" fill="#935f00" />
<rect x="446.33" y="251.33" width="12.13" height="2.06" fill="#ec9900" />
<rect x="446.33" y="252.79" width="12.13" height="1.66" fill="#ce8500" />
<rect x="446.33" y="253.85" width="12.13" height="1.45" fill="#e49300" />
<rect x="446.33" y="254.70" width="12.13" height="0.71" fill="#d48900" />
<rect x="457.97" y="238.70" width="12.13" height="1.63" fill="#4e3200" />
<rect x="457.97" y="239.73" width="12.13" height="1.98" fill="#5d3c00" />
<rect x="457.97" y="241.11" width="12.13" height="2.64" fill="#6f4800" />
<rect x="457.97" y="243.15" width="12.13" height="1.75" fill="#593900" />
<rect x="457.97" y="244.30" width="12.13" height="1.49" fill="#5f3e00" />
<rect x="457.97" y="245.20" width="12.13" height="2.34" fill="#714900" />
<rect x="457.97" y="246.94" width="12.13" height="2.44" fill="#8b5a00" />
<rect x="457.97" y="248.77" width="12.13" height="1.50" fill="#cb8300" />
<rect x="457.97" y="249.68" width="12.13" height="1.23" fill="#db8e00" />
<rect x="457.97" y="250.31" width="12.13" height="1.62" fill="#9a6300" />
<rect x="457.97" y="251.33" width="12.13" height="2.13" fill="#5e3d00" />
<rect x="457.97" y="252.86" width="12.13" height="1.47" fill="#e09100" />
<rect x="457.97" y="253.73" width="12.13" height="1.43" fill="#b87700" />
<rect x="457.97" y="254.56" width="12.13" height="1.37" fill="#c98200" />
<rect x="469.60" y="238.70" width="12.13" height="2.26" fill="#100a00" />
<rect x="469.60" y="240.36" width="12.13" height="1.86" fill="#000000" />
<rect x="469.60" y="241.62" width="12.13" height="1.93" fill="#533600" />
<rect x="469.60" y="242.95" width="12.13" height="1.32" fill="#5b3b00" />
<rect x="469.60" y="243.66" width="12.13" height="1.90" fill="#935f00" />
<rect x="469.60" y="244.96" width="12.13" height="1.82" fill="#9f6700" />
<rect x="469.60" y="246.18" width="12.13" height="1.66" fill="#996300" />
<rect x="469.60" y="247.24" width="12.13" height="1.96" fill="#ad7000" />
<rect x="469.60" y="248.60" width="12.13" height="1.80" fill="#9f6700" />
<rect x="469.60" y="249.80" width="12.13" height="2.13" fill="#d68b00" />
<rect x="469.60" y="251.33" width="12.13" height="1.74" fill="#dd8f00" />
<rect x="469.60" y="252.46" width="12.13" height="2.38" fill="#c98200" />
<rect x="469.60" y="254.24" width="12.13" height="2.20" fill="#f7a000" />
<rect x="481.23" y="238.70" width="12.13" height="2.50" fill="#281a00" />
<rect x="481.23" y="240.60" width="12.13" height="1.42" fill="#553700" />
<rect x="481.23" y="241.42" width="12.13" height="2.33" fill="#674300" />
<rect x="481.23" y="243.15" width="12.13" height="2.01" fill="#432b00" />
<rect x="481.23" y="244.57" width="12.13" height="1.49" fill="#462d00" />
<rect x="481.23" y="245.45" width="12.13" height="1.88" fill="#5c3c00" />
<rect x="481.23" y="246.73" width="12.13" height="1.51" fill="#cb8300" />
<rect x="481.23" y="247.64" width="12.13" height="1.73" fill="#cf8600" />
<rect x="481.23" y="248.77" width="12.13" height="1.43" fill="#986300" />
<rect x="481.23" y="249.61" width="12.13" height="2.23" fill="#935f00" />
<rect x="481.23" y="251.24" width="12.13" height="1.71" fill="#8b5a00" />
<rect x="481.23" y="252.35" width="12.13" height="2.16" fill="#a66b00" />
<rect x="481.23" y="253.91" width="12.13" height="1.47" fill="#a56b00" />
<rect x="481.23" y="254.78" width="12.13" height="1.66" fill="#be7b00" />
<rect x="492.87" y="238.70" width="12.13" height="1.81" fill="#231600" />
<rect x="492.87" y="239.91" width="12.13" height="1.74" fill="#251800" />
<rect x="492.87" y="241.04" width="12.13" height="1.18" fill="#281a00" />
<rect x="492.87" y="241.62" width="12.13" height="1.66" fill="#4c3100" />
<rect x="492.87" y="242.68" width="12.13" height="1.74" fill="#513500" />
<rect x="492.87" y="243.82" width="12.13" height="2.49" fill="#503400" />
<rect x="492.87" y="245.71" width="12.13" height="2.64" fill="#db8e00" />
<rect x="492.87" y="247.75" width="12.13" height="1.58" fill="#925e00" />
<rect x="492.87" y="248.73" width="12.13" height="1.16" fill="#946000" />
<rect x="492.87" y="249.28" width="12.13" height="2.18" fill="#ae7000" />
<rect x="492.87" y="250.87" width="12.13" height="2.08" fill="#bb7900" />
<rect x="492.87" y="252.35" width="12.13" height="1.66" fill="#cf8600" />
<rect x="492.87" y="253.41" width="12.13" height="2.28" fill="#d78b00" />
<rect x="492.87" y="255.09" width="12.13" height="1.35" fill="#da8d00" />
</g></g>
<text x="434.7" y="234.7" font-size="8.28" text-anchor="middle" font-weight="normal" fill="#1a1a1a" stroke="#1a1a1a" stroke-width="0.08" >DDA MBR+ (5916 proteins)</text>
<line x1="370.72" y1="390.70" x2="370.72" y2="395.00" stroke="#333" stroke-width="0.9" />
<text x="0" y="0" font-size="7.5" text-anchor="end" font-weight="normal" fill="#333" stroke="#333" stroke-width="0.08" transform="translate(372.42,397.6) rotate(-90)">A549_1_1</text>
<line x1="382.35" y1="390.70" x2="382.35" y2="395.00" stroke="#333" stroke-width="0.9" />
<text x="0" y="0" font-size="7.5" text-anchor="end" font-weight="normal" fill="#333" stroke="#333" stroke-width="0.08" transform="translate(384.05,397.6) rotate(-90)">A549_1_2</text>
<line x1="393.98" y1="390.70" x2="393.98" y2="395.00" stroke="#333" stroke-width="0.9" />
<text x="0" y="0" font-size="7.5" text-anchor="end" font-weight="normal" fill="#333" stroke="#333" stroke-width="0.08" transform="translate(395.68,397.6) rotate(-90)">A549_1_3</text>
<line x1="405.62" y1="390.70" x2="405.62" y2="395.00" stroke="#333" stroke-width="0.9" />
<text x="0" y="0" font-size="7.5" text-anchor="end" font-weight="normal" fill="#333" stroke="#333" stroke-width="0.08" transform="translate(407.32,397.6) rotate(-90)">A549_1_4</text>
<line x1="417.25" y1="390.70" x2="417.25" y2="395.00" stroke="#333" stroke-width="0.9" />
<text x="0" y="0" font-size="7.5" text-anchor="end" font-weight="normal" fill="#333" stroke="#333" stroke-width="0.08" transform="translate(418.95,397.6) rotate(-90)">A549_2_1</text>
<line x1="428.88" y1="390.70" x2="428.88" y2="395.00" stroke="#333" stroke-width="0.9" />
<text x="0" y="0" font-size="7.5" text-anchor="end" font-weight="normal" fill="#333" stroke="#333" stroke-width="0.08" transform="translate(430.58,397.6) rotate(-90)">A549_2_2</text>
<line x1="440.52" y1="390.70" x2="440.52" y2="395.00" stroke="#333" stroke-width="0.9" />
<text x="0" y="0" font-size="7.5" text-anchor="end" font-weight="normal" fill="#333" stroke="#333" stroke-width="0.08" transform="translate(442.22,397.6) rotate(-90)">A549_2_3</text>
<line x1="452.15" y1="390.70" x2="452.15" y2="395.00" stroke="#333" stroke-width="0.9" />
<text x="0" y="0" font-size="7.5" text-anchor="end" font-weight="normal" fill="#333" stroke="#333" stroke-width="0.08" transform="translate(453.85,397.6) rotate(-90)">A549_2_4</text>
<line x1="463.78" y1="390.70" x2="463.78" y2="395.00" stroke="#333" stroke-width="0.9" />
<text x="0" y="0" font-size="7.5" text-anchor="end" font-weight="normal" fill="#333" stroke="#333" stroke-width="0.08" transform="translate(465.48,397.6) rotate(-90)">A549_3_1</text>
<line x1="475.42" y1="390.70" x2="475.42" y2="395.00" stroke="#333" stroke-width="0.9" />
<text x="0" y="0" font-size="7.5" text-anchor="end" font-weight="normal" fill="#333" stroke="#333" stroke-width="0.08" transform="translate(477.12,397.6) rotate(-90)">A549_3_2</text>
<line x1="487.05" y1="390.70" x2="487.05" y2="395.00" stroke="#333" stroke-width="0.9" />
<text x="0" y="0" font-size="7.5" text-anchor="end" font-weight="normal" fill="#333" stroke="#333" stroke-width="0.08" transform="translate(488.75,397.6) rotate(-90)">A549_3_3</text>
<line x1="498.68" y1="390.70" x2="498.68" y2="395.00" stroke="#333" stroke-width="0.9" />
<text x="0" y="0" font-size="7.5" text-anchor="end" font-weight="normal" fill="#333" stroke="#333" stroke-width="0.08" transform="translate(500.38,397.6) rotate(-90)">A549_3_4</text>
<rect x="532.40" y="238.70" width="139.50" height="152.00" fill="#ffa500" />
<clipPath id="hc3"><rect x="532.4" y="238.7" width="139.50" height="152.00"/></clipPath>
<g clip-path="url(#hc3)"><g filter="url(#vb)" shape-rendering="crispEdges">
<rect x="532.40" y="238.70" width="139.50" height="152.00" fill="#ffa500" />
<rect x="532.40" y="238.70" width="12.12" height="1.73" fill="#170f00" />
<rect x="532.40" y="239.83" width="12.12" height="1.88" fill="#020200" />
<rect x="532.40" y="241.11" width="12.12" height="1.94" fill="#2c1c00" />
<rect x="532.40" y="242.45" width="12.12" height="1.81" fill="#412a00" />
<rect x="532.40" y="243.66" width="12.12" height="1.62" fill="#1d1300" />
<rect x="532.40" y="244.68" width="12.12" height="1.63" fill="#322100" />
<rect x="532.40" y="245.71" width="12.12" height="1.76" fill="#322000" />
<rect x="532.40" y="246.86" width="12.12" height="2.31" fill="#402900" />
<rect x="532.40" y="248.58" width="12.12" height="1.31" fill="#322100" />
<rect x="532.40" y="249.28" width="12.12" height="2.64" fill="#825400" />
<rect x="532.40" y="251.33" width="12.12" height="2.19" fill="#674300" />
<rect x="532.40" y="252.92" width="12.12" height="2.08" fill="#6f4800" />
<rect x="532.40" y="254.39" width="12.12" height="2.14" fill="#c37e00" />
<rect x="532.40" y="255.94" width="12.12" height="1.10" fill="#b37400" />
<rect x="532.40" y="256.44" width="12.12" height="1.90" fill="#ca8300" />
<rect x="532.40" y="257.74" width="12.12" height="1.78" fill="#e69500" />
<rect x="532.40" y="258.92" width="12.12" height="1.54" fill="#d78b00" />
<rect x="532.40" y="259.86" width="12.12" height="1.26" fill="#e39300" />
<rect x="532.40" y="260.52" width="12.12" height="1.62" fill="#432b00" />
<rect x="532.40" y="261.55" width="12.12" height="1.74" fill="#c68000" />
<rect x="532.40" y="262.69" width="12.12" height="2.11" fill="#bc7a00" />
<rect x="532.40" y="264.20" width="12.12" height="1.43" fill="#c27d00" />
<rect x="544.02" y="238.70" width="12.12" height="2.08" fill="#201500" />
<rect x="544.02" y="240.18" width="12.12" height="2.55" fill="#150e00" />
<rect x="544.02" y="242.13" width="12.12" height="1.85" fill="#140d00" />
<rect x="544.02" y="243.38" width="12.12" height="1.77" fill="#3a2600" />
<rect x="544.02" y="244.56" width="12.12" height="1.24" fill="#3a2600" />
<rect x="544.02" y="245.20" width="12.12" height="1.47" fill="#9e6600" />
<rect x="544.02" y="246.07" width="12.12" height="1.45" fill="#a46a00" />
<rect x="544.02" y="246.92" width="12.12" height="1.71" fill="#9c6500" />
<rect x="544.02" y="248.02" width="12.12" height="1.86" fill="#9f6700" />
<rect x="544.02" y="249.28" width="12.12" height="1.94" fill="#794e00" />
<rect x="544.02" y="250.62" width="12.12" height="2.33" fill="#835500" />
<rect x="544.02" y="252.35" width="12.12" height="2.35" fill="#7b4f00" />
<rect x="544.02" y="254.10" width="12.12" height="1.92" fill="#774d00" />
<rect x="544.02" y="255.42" width="12.12" height="1.71" fill="#c17d00" />
<rect x="544.02" y="256.52" width="12.12" height="1.90" fill="#a26900" />
<rect x="544.02" y="257.83" width="12.12" height="1.25" fill="#b77700" />
<rect x="544.02" y="258.48" width="12.12" height="1.69" fill="#e79600" />
<rect x="544.02" y="259.58" width="12.12" height="2.19" fill="#e79500" />
<rect x="544.02" y="261.17" width="12.12" height="2.00" fill="#d68b00" />
<rect x="544.02" y="262.57" width="12.12" height="2.25" fill="#c47f00" />
<rect x="544.02" y="264.21" width="12.12" height="1.42" fill="#ce8500" />
<rect x="555.65" y="238.70" width="12.12" height="2.38" fill="#1a1100" />
<rect x="555.65" y="240.48" width="12.12" height="1.23" fill="#080500" />
<rect x="555.65" y="241.11" width="12.12" height="1.45" fill="#372400" />
<rect x="555.65" y="241.96" width="12.12" height="2.14" fill="#3a2500" />
<rect x="555.65" y="243.50" width="12.12" height="1.61" fill="#3c2700" />
<rect x="555.65" y="244.51" width="12.12" height="2.31" fill="#342200" />
<rect x="555.65" y="246.22" width="12.12" height="1.90" fill="#513400" />
<rect x="555.65" y="247.52" width="12.12" height="1.58" fill="#4e3200" />
<rect x="555.65" y="248.50" width="12.12" height="1.42" fill="#583900" />
<rect x="555.65" y="249.32" width="12.12" height="1.59" fill="#5d3c00" />
<rect x="555.65" y="250.31" width="12.12" height="2.02" fill="#a96d00" />
<rect x="555.65" y="251.72" width="12.12" height="1.74" fill="#bd7a00" />
<rect x="555.65" y="252.86" width="12.12" height="1.72" fill="#7c5000" />
<rect x="555.65" y="253.98" width="12.12" height="2.04" fill="#a16800" />
<rect x="555.65" y="255.42" width="12.12" height="1.82" fill="#b27300" />
<rect x="555.65" y="256.63" width="12.12" height="1.73" fill="#bc7900" />
<rect x="555.65" y="257.76" width="12.12" height="1.32" fill="#c27e00" />
<rect x="555.65" y="258.48" width="12.12" height="2.25" fill="#f69f00" />
<rect x="555.65" y="260.13" width="12.12" height="2.28" fill="#e19100" />
<rect x="555.65" y="261.82" width="12.12" height="1.35" fill="#e69500" />
<rect x="555.65" y="262.57" width="12.12" height="1.69" fill="#f7a000" />
<rect x="555.65" y="263.66" width="12.12" height="1.64" fill="#f7a000" />
<rect x="555.65" y="264.69" width="12.12" height="0.94" fill="#f7a000" />
<rect x="567.27" y="238.70" width="12.12" height="1.68" fill="#332100" />
<rect x="567.27" y="239.78" width="12.12" height="1.50" fill="#150e00" />
<rect x="567.27" y="240.68" width="12.12" height="2.05" fill="#0f0900" />
<rect x="567.27" y="242.13" width="12.12" height="1.90" fill="#412a00" />
<rect x="567.27" y="243.43" width="12.12" height="1.78" fill="#2c1c00" />
<rect x="567.27" y="244.61" width="12.12" height="1.19" fill="#291a00" />
<rect x="567.27" y="245.20" width="12.12" height="1.97" fill="#0d0800" />
<rect x="567.27" y="246.57" width="12.12" height="1.78" fill="#070500" />
<rect x="567.27" y="247.75" width="12.12" height="1.90" fill="#5b3b00" />
<rect x="567.27" y="249.05" width="12.12" height="1.86" fill="#442c00" />
<rect x="567.27" y="250.31" width="12.12" height="1.68" fill="#322100" />
<rect x="567.27" y="251.39" width="12.12" height="2.07" fill="#603e00" />
<rect x="567.27" y="252.86" width="12.12" height="1.63" fill="#cb8300" />
<rect x="567.27" y="253.90" width="12.12" height="2.12" fill="#c27e00" />
<rect x="567.27" y="255.42" width="12.12" height="2.30" fill="#a96d00" />
<rect x="567.27" y="257.12" width="12.12" height="1.90" fill="#a46a00" />
<rect x="567.27" y="258.42" width="12.12" height="1.68" fill="#ba7800" />
<rect x="567.27" y="259.50" width="12.12" height="1.89" fill="#c27d00" />
<rect x="567.27" y="260.79" width="12.12" height="2.38" fill="#cd8500" />
<rect x="567.27" y="262.57" width="12.12" height="1.90" fill="#bb7900" />
<rect x="567.27" y="263.87" width="12.12" height="1.25" fill="#c68000" />
<rect x="578.90" y="238.70" width="12.12" height="2.23" fill="#3f2900" />
<rect x="578.90" y="240.33" width="12.12" height="1.38" fill="#120b00" />
<rect x="578.90" y="241.11" width="12.12" height="2.09" fill="#523500" />
<rect x="578.90" y="242.59" width="12.12" height="1.16" fill="#392500" />
<rect x="578.90" y="243.15" width="12.12" height="2.20" fill="#3d2800" />
<rect x="578.90" y="244.75" width="12.12" height="2.06" fill="#482f00" />
<rect x="578.90" y="246.22" width="12.12" height="1.64" fill="#684400" />
<rect x="578.90" y="247.26" width="12.12" height="1.91" fill="#654100" />
<rect x="578.90" y="248.57" width="12.12" height="1.74" fill="#6b4500" />
<rect x="578.90" y="249.72" width="12.12" height="1.19" fill="#553700" />
<rect x="578.90" y="250.31" width="12.12" height="2.33" fill="#b07200" />
<rect x="578.90" y="252.04" width="12.12" height="1.93" fill="#af7100" />
<rect x="578.90" y="253.37" width="12.12" height="1.51" fill="#a66b00" />
<rect x="578.90" y="254.28" width="12.12" height="1.71" fill="#895900" />
<rect x="578.90" y="255.39" width="12.12" height="1.65" fill="#855600" />
<rect x="578.90" y="256.44" width="12.12" height="2.39" fill="#9e6600" />
<rect x="578.90" y="258.22" width="12.12" height="2.02" fill="#c17d00" />
<rect x="578.90" y="259.65" width="12.12" height="1.48" fill="#c17d00" />
<rect x="578.90" y="260.52" width="12.12" height="2.27" fill="#c27d00" />
<rect x="578.90" y="262.19" width="12.12" height="2.27" fill="#a96d00" />
<rect x="578.90" y="263.87" width="12.12" height="1.26" fill="#d08700" />
<rect x="590.52" y="238.70" width="12.12" height="1.89" fill="#130c00" />
<rect x="590.52" y="239.99" width="12.12" height="1.78" fill="#180f00" />
<rect x="590.52" y="241.18" width="12.12" height="1.55" fill="#1c1200" />
<rect x="590.52" y="242.13" width="12.12" height="2.20" fill="#422b00" />
<rect x="590.52" y="243.73" width="12.12" height="2.07" fill="#523500" />
<rect x="590.52" y="245.20" width="12.12" height="2.09" fill="#4e3300" />
<rect x="590.52" y="246.69" width="12.12" height="1.15" fill="#583900" />
<rect x="590.52" y="247.24" width="12.12" height="1.59" fill="#8d5b00" />
<rect x="590.52" y="248.23" width="12.12" height="2.68" fill="#895900" />
<rect x="590.52" y="250.31" width="12.12" height="1.73" fill="#724a00" />
<rect x="590.52" y="251.44" width="12.12" height="1.51" fill="#4d3200" />
<rect x="590.52" y="252.35" width="12.12" height="2.35" fill="#281a00" />
<rect x="590.52" y="254.10" width="12.12" height="1.91" fill="#291b00" />
<rect x="590.52" y="255.42" width="12.12" height="1.73" fill="#a36900" />
<rect x="590.52" y="256.55" width="12.12" height="1.89" fill="#b57500" />
<rect x="590.52" y="257.84" width="12.12" height="1.24" fill="#b07200" />
<rect x="590.52" y="258.48" width="12.12" height="1.87" fill="#b37400" />
<rect x="590.52" y="259.75" width="12.12" height="2.14" fill="#bf7c00" />
<rect x="590.52" y="261.30" width="12.12" height="1.87" fill="#c88100" />
<rect x="590.52" y="262.57" width="12.12" height="1.64" fill="#ca8300" />
<rect x="590.52" y="263.61" width="12.12" height="1.45" fill="#d08700" />
<rect x="590.52" y="264.46" width="12.12" height="1.17" fill="#ad7000" />
<rect x="602.15" y="238.70" width="12.12" height="2.04" fill="#080500" />
<rect x="602.15" y="240.14" width="12.12" height="1.81" fill="#050300" />
<rect x="602.15" y="241.35" width="12.12" height="1.87" fill="#120c00" />
<rect x="602.15" y="242.63" width="12.12" height="2.15" fill="#170f00" />
<rect x="602.15" y="244.17" width="12.12" height="2.09" fill="#6f4800" />
<rect x="602.15" y="245.66" width="12.12" height="2.18" fill="#553700" />
<rect x="602.15" y="247.24" width="12.12" height="2.64" fill="#462d00" />
<rect x="602.15" y="249.28" width="12.12" height="2.64" fill="#734a00" />
<rect x="602.15" y="251.33" width="12.12" height="2.40" fill="#a96d00" />
<rect x="602.15" y="253.13" width="12.12" height="1.87" fill="#a16800" />
<rect x="602.15" y="254.39" width="12.12" height="1.46" fill="#ed9900" />
<rect x="602.15" y="255.25" width="12.12" height="1.55" fill="#cf8600" />
<rect x="602.15" y="256.20" width="12.12" height="2.12" fill="#d68a00" />
<rect x="602.15" y="257.72" width="12.12" height="1.36" fill="#d08600" />
<rect x="602.15" y="258.48" width="12.12" height="2.05" fill="#d38900" />
<rect x="602.15" y="259.93" width="12.12" height="2.11" fill="#b27300" />
<rect x="602.15" y="261.43" width="12.12" height="1.73" fill="#c37e00" />
<rect x="602.15" y="262.57" width="12.12" height="1.87" fill="#bf7c00" />
<rect x="602.15" y="263.84" width="12.12" height="1.46" fill="#9e6600" />
<rect x="602.15" y="264.70" width="12.12" height="0.93" fill="#a36a00" />
<rect x="613.77" y="238.70" width="12.12" height="1.84" fill="#3a2500" />
<rect x="613.77" y="239.94" width="12.12" height="1.53" fill="#170f00" />
<rect x="613.77" y="240.87" width="12.12" height="1.87" fill="#2e1e00" />
<rect x="613.77" y="242.13" width="12.12" height="1.80" fill="#412a00" />
<rect x="613.77" y="243.33" width="12.12" height="1.44" fill="#3d2700" />
<rect x="613.77" y="244.17" width="12.12" height="1.45" fill="#3e2800" />
<rect x="613.77" y="245.02" width="12.12" height="1.45" fill="#392500" />
<rect x="613.77" y="245.88" width="12.12" height="1.96" fill="#452c00" />
<rect x="613.77" y="247.24" width="12.12" height="1.79" fill="#734b00" />
<rect x="613.77" y="248.43" width="12.12" height="1.45" fill="#8c5a00" />
<rect x="613.77" y="249.28" width="12.12" height="2.25" fill="#df9100" />
<rect x="613.77" y="250.94" width="12.12" height="1.89" fill="#c37e00" />
<rect x="613.77" y="252.22" width="12.12" height="1.75" fill="#c68000" />
<rect x="613.77" y="253.37" width="12.12" height="1.52" fill="#a36900" />
<rect x="613.77" y="254.29" width="12.12" height="2.27" fill="#ae7100" />
<rect x="613.77" y="255.96" width="12.12" height="1.91" fill="#9b6400" />
<rect x="613.77" y="257.27" width="12.12" height="1.81" fill="#ad7000" />
<rect x="613.77" y="258.48" width="12.12" height="1.66" fill="#de9000" />
<rect x="613.77" y="259.54" width="12.12" height="1.85" fill="#c58000" />
<rect x="613.77" y="260.79" width="12.12" height="1.77" fill="#cc8400" />
<rect x="613.77" y="261.95" width="12.12" height="1.72" fill="#de9000" />
<rect x="613.77" y="263.07" width="12.12" height="1.12" fill="#d08600" />
<rect x="613.77" y="263.59" width="12.12" height="2.04" fill="#c57f00" />
<rect x="625.40" y="238.70" width="12.12" height="1.86" fill="#000000" />
<rect x="625.40" y="239.96" width="12.12" height="1.75" fill="#1e1300" />
<rect x="625.40" y="241.11" width="12.12" height="1.78" fill="#754c00" />
<rect x="625.40" y="242.29" width="12.12" height="1.98" fill="#442c00" />
<rect x="625.40" y="243.66" width="12.12" height="1.80" fill="#291b00" />
<rect x="625.40" y="244.87" width="12.12" height="1.95" fill="#211500" />
<rect x="625.40" y="246.22" width="12.12" height="2.12" fill="#915e00" />
<rect x="625.40" y="247.74" width="12.12" height="1.63" fill="#7a4f00" />
<rect x="625.40" y="248.77" width="12.12" height="1.84" fill="#472e00" />
<rect x="625.40" y="250.01" width="12.12" height="2.17" fill="#452d00" />
<rect x="625.40" y="251.58" width="12.12" height="1.37" fill="#583900" />
<rect x="625.40" y="252.35" width="12.12" height="2.11" fill="#986200" />
<rect x="625.40" y="253.86" width="12.12" height="1.13" fill="#865700" />
<rect x="625.40" y="254.39" width="12.12" height="1.66" fill="#bd7b00" />
<rect x="625.40" y="255.45" width="12.12" height="2.01" fill="#b57500" />
<rect x="625.40" y="256.87" width="12.12" height="2.21" fill="#bf7c00" />
<rect x="625.40" y="258.48" width="12.12" height="1.60" fill="#774d00" />
<rect x="625.40" y="259.48" width="12.12" height="1.65" fill="#704900" />
<rect x="625.40" y="260.52" width="12.12" height="2.22" fill="#d38800" />
<rect x="625.40" y="262.15" width="12.12" height="1.99" fill="#c17d00" />
<rect x="625.40" y="263.54" width="12.12" height="2.11" fill="#ce8500" />
<rect x="625.40" y="265.05" width="12.12" height="0.59" fill="#b77600" />
<rect x="637.02" y="238.70" width="12.12" height="1.65" fill="#080500" />
<rect x="637.02" y="239.75" width="12.12" height="1.96" fill="#000000" />
<rect x="637.02" y="241.11" width="12.12" height="2.64" fill="#352200" />
<rect x="637.02" y="243.15" width="12.12" height="1.72" fill="#513400" />
<rect x="637.02" y="244.28" width="12.12" height="2.03" fill="#493000" />
<rect x="637.02" y="245.71" width="12.12" height="1.97" fill="#0a0600" />
<rect x="637.02" y="247.07" width="12.12" height="1.28" fill="#050300" />
<rect x="637.02" y="247.75" width="12.12" height="2.03" fill="#664200" />
<rect x="637.02" y="249.18" width="12.12" height="1.73" fill="#613e00" />
<rect x="637.02" y="250.31" width="12.12" height="2.21" fill="#764d00" />
<rect x="637.02" y="251.91" width="12.12" height="2.06" fill="#8a5900" />
<rect x="637.02" y="253.37" width="12.12" height="1.86" fill="#b47400" />
<rect x="637.02" y="254.63" width="12.12" height="2.41" fill="#b67600" />
<rect x="637.02" y="256.44" width="12.12" height="2.35" fill="#8b5a00" />
<rect x="637.02" y="258.19" width="12.12" height="1.91" fill="#8d5b00" />
<rect x="637.02" y="259.50" width="12.12" height="1.70" fill="#c78100" />
<rect x="637.02" y="260.60" width="12.12" height="2.09" fill="#c37e00" />
<rect x="637.02" y="262.10" width="12.12" height="2.10" fill="#b67600" />
<rect x="637.02" y="263.59" width="12.12" height="1.53" fill="#5c3c00" />
<rect x="648.65" y="238.70" width="12.12" height="1.42" fill="#261800" />
<rect x="648.65" y="239.52" width="12.12" height="1.77" fill="#160e00" />
<rect x="648.65" y="240.70" width="12.12" height="2.03" fill="#130d00" />
<rect x="648.65" y="242.13" width="12.12" height="2.27" fill="#2f1e00" />
<rect x="648.65" y="243.80" width="12.12" height="1.99" fill="#221600" />
<rect x="648.65" y="245.20" width="12.12" height="1.52" fill="#603e00" />
<rect x="648.65" y="246.11" width="12.12" height="2.14" fill="#583900" />
<rect x="648.65" y="247.65" width="12.12" height="1.66" fill="#392500" />
<rect x="648.65" y="248.72" width="12.12" height="1.17" fill="#4e3200" />
<rect x="648.65" y="249.28" width="12.12" height="2.22" fill="#5f3d00" />
<rect x="648.65" y="250.90" width="12.12" height="2.05" fill="#523500" />
<rect x="648.65" y="252.35" width="12.12" height="2.10" fill="#724a00" />
<rect x="648.65" y="253.85" width="12.12" height="1.62" fill="#966100" />
<rect x="648.65" y="254.87" width="12.12" height="2.17" fill="#7a4f00" />
<rect x="648.65" y="256.44" width="12.12" height="2.21" fill="#bf7c00" />
<rect x="648.65" y="258.05" width="12.12" height="1.97" fill="#956100" />
<rect x="648.65" y="259.42" width="12.12" height="1.71" fill="#9b6400" />
<rect x="648.65" y="260.52" width="12.12" height="1.62" fill="#c78100" />
<rect x="648.65" y="261.55" width="12.12" height="2.36" fill="#c78100" />
<rect x="648.65" y="263.31" width="12.12" height="1.30" fill="#bf7c00" />
<rect x="660.27" y="238.70" width="12.12" height="2.23" fill="#120b00" />
<rect x="660.27" y="240.33" width="12.12" height="1.38" fill="#090600" />
<rect x="660.27" y="241.11" width="12.12" height="1.76" fill="#2c1c00" />
<rect x="660.27" y="242.26" width="12.12" height="2.51" fill="#392500" />
<rect x="660.27" y="244.17" width="12.12" height="2.64" fill="#8d5b00" />
<rect x="660.27" y="246.22" width="12.12" height="1.63" fill="#462e00" />
<rect x="660.27" y="247.25" width="12.12" height="2.13" fill="#533600" />
<rect x="660.27" y="248.77" width="12.12" height="1.45" fill="#8b5a00" />
<rect x="660.27" y="249.62" width="12.12" height="2.31" fill="#885800" />
<rect x="660.27" y="251.33" width="12.12" height="1.94" fill="#c78100" />
<rect x="660.27" y="252.67" width="12.12" height="1.44" fill="#c98200" />
<rect x="660.27" y="253.52" width="12.12" height="1.75" fill="#dd8f00" />
<rect x="660.27" y="254.67" width="12.12" height="2.37" fill="#ca8300" />
<rect x="660.27" y="256.44" width="12.12" height="1.46" fill="#c17d00" />
<rect x="660.27" y="257.30" width="12.12" height="2.10" fill="#c17d00" />
<rect x="660.27" y="258.80" width="12.12" height="1.58" fill="#bd7a00" />
<rect x="660.27" y="259.77" width="12.12" height="2.10" fill="#d28800" />
<rect x="660.27" y="261.27" width="12.12" height="1.90" fill="#b57500" />
<rect x="660.27" y="262.57" width="12.12" height="1.96" fill="#db8e00" />
<rect x="660.27" y="263.93" width="12.12" height="1.76" fill="#d38800" />
<rect x="660.27" y="265.09" width="12.12" height="0.55" fill="#e09100" />
</g></g>
<text x="602.15" y="234.7" font-size="8.28" text-anchor="middle" font-weight="normal" fill="#1a1a1a" stroke="#1a1a1a" stroke-width="0.08" >DDA+ MBR+ (6725 proteins)</text>
<line x1="538.21" y1="390.70" x2="538.21" y2="395.00" stroke="#333" stroke-width="0.9" />
<text x="0" y="0" font-size="7.5" text-anchor="end" font-weight="normal" fill="#333" stroke="#333" stroke-width="0.08" transform="translate(539.91,397.6) rotate(-90)">A549_1_1</text>
<line x1="549.84" y1="390.70" x2="549.84" y2="395.00" stroke="#333" stroke-width="0.9" />
<text x="0" y="0" font-size="7.5" text-anchor="end" font-weight="normal" fill="#333" stroke="#333" stroke-width="0.08" transform="translate(551.54,397.6) rotate(-90)">A549_1_2</text>
<line x1="561.46" y1="390.70" x2="561.46" y2="395.00" stroke="#333" stroke-width="0.9" />
<text x="0" y="0" font-size="7.5" text-anchor="end" font-weight="normal" fill="#333" stroke="#333" stroke-width="0.08" transform="translate(563.16,397.6) rotate(-90)">A549_1_3</text>
<line x1="573.09" y1="390.70" x2="573.09" y2="395.00" stroke="#333" stroke-width="0.9" />
<text x="0" y="0" font-size="7.5" text-anchor="end" font-weight="normal" fill="#333" stroke="#333" stroke-width="0.08" transform="translate(574.79,397.6) rotate(-90)">A549_1_4</text>
<line x1="584.71" y1="390.70" x2="584.71" y2="395.00" stroke="#333" stroke-width="0.9" />
<text x="0" y="0" font-size="7.5" text-anchor="end" font-weight="normal" fill="#333" stroke="#333" stroke-width="0.08" transform="translate(586.41,397.6) rotate(-90)">A549_2_1</text>
<line x1="596.34" y1="390.70" x2="596.34" y2="395.00" stroke="#333" stroke-width="0.9" />
<text x="0" y="0" font-size="7.5" text-anchor="end" font-weight="normal" fill="#333" stroke="#333" stroke-width="0.08" transform="translate(598.04,397.6) rotate(-90)">A549_2_2</text>
<line x1="607.96" y1="390.70" x2="607.96" y2="395.00" stroke="#333" stroke-width="0.9" />
<text x="0" y="0" font-size="7.5" text-anchor="end" font-weight="normal" fill="#333" stroke="#333" stroke-width="0.08" transform="translate(609.66,397.6) rotate(-90)">A549_2_3</text>
<line x1="619.59" y1="390.70" x2="619.59" y2="395.00" stroke="#333" stroke-width="0.9" />
<text x="0" y="0" font-size="7.5" text-anchor="end" font-weight="normal" fill="#333" stroke="#333" stroke-width="0.08" transform="translate(621.29,397.6) rotate(-90)">A549_2_4</text>
<line x1="631.21" y1="390.70" x2="631.21" y2="395.00" stroke="#333" stroke-width="0.9" />
<text x="0" y="0" font-size="7.5" text-anchor="end" font-weight="normal" fill="#333" stroke="#333" stroke-width="0.08" transform="translate(632.91,397.6) rotate(-90)">A549_3_1</text>
<line x1="642.84" y1="390.70" x2="642.84" y2="395.00" stroke="#333" stroke-width="0.9" />
<text x="0" y="0" font-size="7.5" text-anchor="end" font-weight="normal" fill="#333" stroke="#333" stroke-width="0.08" transform="translate(644.54,397.6) rotate(-90)">A549_3_2</text>
<line x1="654.46" y1="390.70" x2="654.46" y2="395.00" stroke="#333" stroke-width="0.9" />
<text x="0" y="0" font-size="7.5" text-anchor="end" font-weight="normal" fill="#333" stroke="#333" stroke-width="0.08" transform="translate(656.16,397.6) rotate(-90)">A549_3_3</text>
<line x1="666.09" y1="390.70" x2="666.09" y2="395.00" stroke="#333" stroke-width="0.9" />
<text x="0" y="0" font-size="7.5" text-anchor="end" font-weight="normal" fill="#333" stroke="#333" stroke-width="0.08" transform="translate(667.79,397.6) rotate(-90)">A549_3_4</text>
<text x="0" y="0" font-size="8.1" text-anchor="middle" font-weight="normal" fill="#333" stroke="#333" stroke-width="0.08" transform="translate(13.3,314.2) rotate(-90)">Protein index</text>
<text x="0" y="0" font-size="8.1" text-anchor="middle" font-weight="normal" fill="#333" stroke="#333" stroke-width="0.08" transform="translate(360.4,314.2) rotate(-90)">Protein index</text></svg>
</body></html>
